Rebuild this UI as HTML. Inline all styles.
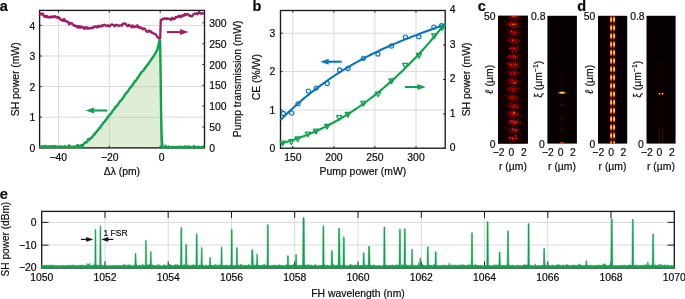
<!DOCTYPE html>
<html><head><meta charset="utf-8"><title>Figure</title>
<style>html,body{margin:0;padding:0;background:#fff}svg{display:block}text{font-family:"Liberation Sans",sans-serif;fill:#0a0a0a;stroke:#0a0a0a;stroke-width:0.18px}</style>
</head><body>
<svg width="685" height="299" viewBox="0 0 685 299">
<rect width="685" height="299" fill="#fff"/>
<line x1="58.5" y1="10.4" x2="58.5" y2="147.9" stroke="#dadada" stroke-width="1" />
<line x1="109.3" y1="10.4" x2="109.3" y2="147.9" stroke="#dadada" stroke-width="1" />
<line x1="160.2" y1="10.4" x2="160.2" y2="147.9" stroke="#dadada" stroke-width="1" />
<line x1="39.6" y1="117.2" x2="204.5" y2="117.2" stroke="#dadada" stroke-width="1" />
<line x1="39.6" y1="86.6" x2="204.5" y2="86.6" stroke="#dadada" stroke-width="1" />
<line x1="39.6" y1="56" x2="204.5" y2="56" stroke="#dadada" stroke-width="1" />
<line x1="39.6" y1="25.4" x2="204.5" y2="25.4" stroke="#dadada" stroke-width="1" />
<path d="M39.6 147.9 L39.6 146.5 L40.1 146.9 L40.6 146.5 L41.1 147.1 L41.6 146.6 L42.1 146.5 L42.6 146.4 L43.1 146.7 L43.6 145.9 L44.1 147 L44.6 147.1 L45.1 147 L45.6 145.9 L46.1 146.8 L46.6 146.8 L47.1 146.6 L47.6 146.8 L48.1 146.7 L48.6 146.2 L49.1 147.1 L49.6 147.1 L50.1 146.7 L50.6 146.4 L51.1 146.6 L51.6 147.1 L52.1 147.1 L52.6 145.9 L53.1 146.9 L53.6 146.6 L54.1 146.5 L54.6 146.5 L55.1 146.1 L55.6 147.1 L56.1 146.9 L56.6 146.8 L57.1 146.6 L57.6 147.1 L58.1 146.9 L58.6 146.8 L59.1 147 L59.6 147 L60.1 146.7 L60.6 146.4 L61.1 146.6 L61.6 146.8 L62.1 147.1 L62.6 146.9 L63.1 146.8 L63.6 146.8 L64.1 146.9 L64.6 146 L65.1 146.8 L65.6 146.9 L66.1 146.9 L66.6 147 L67.1 146.8 L67.6 146.8 L68.1 147 L68.6 146.7 L69.1 145.3 L69.6 147 L70.1 146.4 L70.6 146.8 L71.1 146.9 L71.6 146.8 L72.1 147 L72.6 146.8 L73.1 146.9 L73.6 146.7 L74.1 147 L74.6 146.8 L75.1 146.5 L75.6 146.3 L76.1 146.1 L76.6 146.6 L77.1 145.6 L77.6 146.1 L78.1 145.1 L78.6 145.9 L79.1 146.5 L79.6 146 L80.1 146.2 L80.6 146.1 L81.1 145.2 L81.6 145.2 L82.1 145.8 L82.6 145.6 L83.1 144.6 L83.6 144.6 L84.1 143.3 L84.6 142.8 L85.1 142.7 L85.6 142.2 L86.1 142.6 L86.6 142.1 L87.1 141.6 L87.6 140.2 L88.1 139.2 L88.6 140.2 L89.1 139.4 L89.6 138.7 L90.1 139.3 L90.6 138.3 L91.1 137.9 L91.6 137.7 L92.1 137 L92.6 136.5 L93.1 135.8 L93.6 134.8 L94.1 134.1 L94.6 133.9 L95.1 134.2 L95.6 132.5 L96.1 132.1 L96.6 131.9 L97.1 130.9 L97.6 130.7 L98.1 129.9 L98.6 129 L99.1 128.1 L99.6 128.2 L100.1 127.9 L100.6 126.7 L101.1 125.8 L101.6 125.4 L102.1 124.6 L102.6 123.9 L103.1 123.2 L103.6 122.2 L104.1 122.1 L104.6 122 L105.1 120.9 L105.6 120 L106.1 119.8 L106.6 119 L107.1 118.4 L107.6 117.2 L108.1 116.7 L108.6 116.4 L109.1 115.3 L109.6 115 L110.1 114.3 L110.6 113.8 L111.1 113.3 L111.6 112.5 L112.1 112 L112.6 110.8 L113.1 110.5 L113.6 109.6 L114.1 109 L114.6 108.8 L115.1 107.3 L115.6 106.8 L116.1 106.3 L116.6 106.3 L117.1 105.5 L117.6 105.1 L118.1 104.3 L118.6 103.2 L119.1 102.5 L119.6 101.9 L120.1 101.2 L120.6 100.8 L121.1 100.3 L121.6 100 L122.1 99.1 L122.6 98.2 L123.1 97.6 L123.6 97.2 L124.1 96.4 L124.6 95.2 L125.1 94.8 L125.6 93.8 L126.1 92.9 L126.6 92.9 L127.1 92.1 L127.6 91.5 L128.1 91.1 L128.6 90.3 L129.1 89.5 L129.6 88.4 L130.1 88 L130.6 87.4 L131.1 86.9 L131.6 85.9 L132.1 85.7 L132.6 84.5 L133.1 83.9 L133.6 83.3 L134.1 82.4 L134.6 82 L135.1 80.7 L135.6 80.9 L136.1 80.5 L136.6 79.5 L137.1 78.6 L137.6 77.6 L138.1 77.2 L138.6 76.8 L139.1 75.9 L139.6 74.7 L140.1 74.1 L140.6 73.9 L141.1 72.6 L141.6 71.9 L142.1 71.7 L142.6 71.3 L143.1 71 L143.6 70.3 L144.1 69.1 L144.6 68.5 L145.1 67.7 L145.6 67.8 L146.1 66.4 L146.6 66.2 L147.1 65.4 L147.6 64.7 L148.1 63.8 L148.6 63.7 L149.1 62.5 L149.6 61.9 L150.1 61.4 L150.6 60.4 L151.1 59.9 L151.6 59.1 L152.1 58 L152.6 57.8 L153.1 56.9 L153.6 56.4 L154.1 55.5 L154.6 54.5 L155.1 53.8 L155.6 52.8 L156.1 51.7 L156.6 51.1 L157.1 50.4 L157.6 48.6 L158.1 46.2 L158.6 44.4 L159.1 42.3 L159.6 40.3 L160.1 40.5 L160.6 147.9 Z" fill="#dfecd6"/>
<line x1="109.3" y1="147.8" x2="109.3" y2="118" stroke="#c6d4be" stroke-width="1" />
<line x1="108" y1="117.2" x2="160.4" y2="117.2" stroke="#c6d4be" stroke-width="1" />
<line x1="130" y1="86.6" x2="160.4" y2="86.6" stroke="#c6d4be" stroke-width="1" />
<line x1="152" y1="56" x2="160.4" y2="56" stroke="#c6d4be" stroke-width="1" />
<rect x="39.6" y="10.4" width="164.9" height="137.5" fill="none" stroke="#1a1a1a" stroke-width="1.35"/>
<line x1="58.5" y1="147.9" x2="58.5" y2="145.7" stroke="#1a1a1a" stroke-width="0.9" />
<line x1="58.5" y1="10.4" x2="58.5" y2="12.6" stroke="#1a1a1a" stroke-width="0.9" />
<text x="58.2" y="160.8" text-anchor="middle" font-size="10.4" >−40</text>
<line x1="109.3" y1="147.9" x2="109.3" y2="145.7" stroke="#1a1a1a" stroke-width="0.9" />
<line x1="109.3" y1="10.4" x2="109.3" y2="12.6" stroke="#1a1a1a" stroke-width="0.9" />
<text x="109.8" y="160.8" text-anchor="middle" font-size="10.4" >−20</text>
<line x1="160.2" y1="147.9" x2="160.2" y2="145.7" stroke="#1a1a1a" stroke-width="0.9" />
<line x1="160.2" y1="10.4" x2="160.2" y2="12.6" stroke="#1a1a1a" stroke-width="0.9" />
<text x="161.6" y="160.8" text-anchor="middle" font-size="10.4" >0</text>
<line x1="39.6" y1="147.8" x2="41.8" y2="147.8" stroke="#1a1a1a" stroke-width="0.9" />
<text x="35.3" y="151.9" text-anchor="end" font-size="10.4" >0</text>
<line x1="39.6" y1="117.2" x2="41.8" y2="117.2" stroke="#1a1a1a" stroke-width="0.9" />
<text x="35.3" y="121.3" text-anchor="end" font-size="10.4" >1</text>
<line x1="39.6" y1="86.6" x2="41.8" y2="86.6" stroke="#1a1a1a" stroke-width="0.9" />
<text x="35.3" y="90.7" text-anchor="end" font-size="10.4" >2</text>
<line x1="39.6" y1="56" x2="41.8" y2="56" stroke="#1a1a1a" stroke-width="0.9" />
<text x="35.3" y="60.1" text-anchor="end" font-size="10.4" >3</text>
<line x1="39.6" y1="25.4" x2="41.8" y2="25.4" stroke="#1a1a1a" stroke-width="0.9" />
<text x="35.3" y="29.5" text-anchor="end" font-size="10.4" >4</text>
<line x1="204.5" y1="147.8" x2="202.3" y2="147.8" stroke="#1a1a1a" stroke-width="0.9" />
<text x="209.2" y="151.8" text-anchor="start" font-size="10.4" >0</text>
<line x1="204.5" y1="127" x2="202.3" y2="127" stroke="#1a1a1a" stroke-width="0.9" />
<text x="209.2" y="131" text-anchor="start" font-size="10.4" >50</text>
<line x1="204.5" y1="106.1" x2="202.3" y2="106.1" stroke="#1a1a1a" stroke-width="0.9" />
<text x="209.2" y="110.1" text-anchor="start" font-size="10.4" >100</text>
<line x1="204.5" y1="85.3" x2="202.3" y2="85.3" stroke="#1a1a1a" stroke-width="0.9" />
<text x="209.2" y="89.3" text-anchor="start" font-size="10.4" >150</text>
<line x1="204.5" y1="64.5" x2="202.3" y2="64.5" stroke="#1a1a1a" stroke-width="0.9" />
<text x="209.2" y="68.5" text-anchor="start" font-size="10.4" >200</text>
<line x1="204.5" y1="43.7" x2="202.3" y2="43.7" stroke="#1a1a1a" stroke-width="0.9" />
<text x="209.2" y="47.7" text-anchor="start" font-size="10.4" >250</text>
<line x1="204.5" y1="22.8" x2="202.3" y2="22.8" stroke="#1a1a1a" stroke-width="0.9" />
<text x="209.2" y="26.8" text-anchor="start" font-size="10.4" >300</text>
<text x="121.9" y="174.7" text-anchor="middle" font-size="10.4" >Δλ (pm)</text>
<text transform="translate(19.3 79.3) rotate(-90)" text-anchor="middle" font-size="10.4" >SH power (mW)</text>
<text transform="translate(241.3 78.9) rotate(-90)" text-anchor="middle" font-size="10.4" >Pump transmission (mW)</text>
<line x1="107.3" y1="110.5" x2="92.3" y2="110.5" stroke="#11a14f" stroke-width="2.1" />
<path d="M85.6 110.5 L94 107.5 L94 113.5 Z" fill="#11a14f"/>
<line x1="167" y1="32.1" x2="181.8" y2="32.1" stroke="#9c1f63" stroke-width="2.1" />
<path d="M188.5 32.1 L180.1 29.1 L180.1 35.1 Z" fill="#9c1f63"/>
<text x="-0.3" y="10.4" text-anchor="start" font-size="14.5" font-weight="bold" dy="0.4">a</text>
<path d="M39.6 147.9 L39.6 146.5 L40.1 146.9 L40.6 146.5 L41.1 147.1 L41.6 146.6 L42.1 146.5 L42.6 146.4 L43.1 146.7 L43.6 145.9 L44.1 147 L44.6 147.1 L45.1 147 L45.6 145.9 L46.1 146.8 L46.6 146.8 L47.1 146.6 L47.6 146.8 L48.1 146.7 L48.6 146.2 L49.1 147.1 L49.6 147.1 L50.1 146.7 L50.6 146.4 L51.1 146.6 L51.6 147.1 L52.1 147.1 L52.6 145.9 L53.1 146.9 L53.6 146.6 L54.1 146.5 L54.6 146.5 L55.1 146.1 L55.6 147.1 L56.1 146.9 L56.6 146.8 L57.1 146.6 L57.6 147.1 L58.1 146.9 L58.6 146.8 L59.1 147 L59.6 147 L60.1 146.7 L60.6 146.4 L61.1 146.6 L61.6 146.8 L62.1 147.1 L62.6 146.9 L63.1 146.8 L63.6 146.8 L64.1 146.9 L64.6 146 L65.1 146.8 L65.6 146.9 L66.1 146.9 L66.6 147 L67.1 146.8 L67.6 146.8 L68.1 147 L68.6 146.7 L69.1 145.3 L69.6 147 L70.1 146.4 L70.6 146.8 L71.1 146.9 L71.6 146.8 L72.1 147 L72.6 146.8 L73.1 146.9 L73.6 146.7 L74.1 147 L74.6 146.8 L75.1 146.5 L75.6 146.3 L76.1 146.1 L76.6 146.6 L77.1 145.6 L77.6 146.1 L78.1 145.1 L78.6 145.9 L79.1 146.5 L79.6 146 L80.1 146.2 L80.6 146.1 L81.1 145.2 L81.6 145.2 L82.1 145.8 L82.6 145.6 L83.1 144.6 L83.6 144.6 L83.6 147.9 Z" fill="#11a14f"/>
<path d="M160.6 147.9 L160.6 72.8 L161.1 111.4 L161.6 134.1 L162.1 143 L162.6 146.2 L163.1 147.2 L163.6 147.2 L164.1 147.3 L164.6 147 L165.1 147.4 L165.6 145.8 L166.1 147.5 L166.6 146.9 L167.1 147.1 L167.6 147.4 L168.1 147.4 L168.6 146.6 L169.1 147.3 L169.6 147.2 L170.1 147.2 L170.6 147.2 L171.1 147.4 L171.6 147.3 L172.1 146.8 L172.6 147.4 L173.1 146.9 L173.6 147.4 L174.1 147.4 L174.6 147.2 L175.1 147.5 L175.6 147.1 L176.1 147.3 L176.6 147.4 L177.1 147.3 L177.6 146.7 L178.1 147.4 L178.6 147.4 L179.1 146.8 L179.6 147.4 L180.1 147.2 L180.6 146.7 L181.1 147.5 L181.6 147.5 L182.1 147.2 L182.6 146.9 L183.1 147.2 L183.6 147.5 L184.1 147.4 L184.6 146.6 L185.1 146.9 L185.6 147.5 L186.1 147 L186.6 146.4 L187.1 147.4 L187.6 147.3 L188.1 147.4 L188.6 146.8 L189.1 146.5 L189.6 146.6 L190.1 147.1 L190.6 147.3 L191.1 147.1 L191.6 147.4 L192.1 147.5 L192.6 147.3 L193.1 147.1 L193.6 147.4 L194.1 146.1 L194.6 147.3 L195.1 146.9 L195.6 147.1 L196.1 147.2 L196.6 147.4 L197.1 147.2 L197.6 147.4 L198.1 146.8 L198.6 147.1 L199.1 147.1 L199.6 147 L200.1 147.1 L200.6 147.4 L201.1 147.5 L201.6 147.3 L202.1 147.3 L202.6 147.2 L203.1 147 L203.6 146.2 L204.1 146.4 L204.1 147.9 Z" fill="#11a14f"/>
<polyline fill="none" stroke="#11a14f" stroke-width="2.4" stroke-linejoin="round" points="39.6,146.5 40.1,146.9 40.6,146.5 41.1,147.1 41.6,146.6 42.1,146.5 42.6,146.4 43.1,146.7 43.6,145.9 44.1,147 44.6,147.1 45.1,147 45.6,145.9 46.1,146.8 46.6,146.8 47.1,146.6 47.6,146.8 48.1,146.7 48.6,146.2 49.1,147.1 49.6,147.1 50.1,146.7 50.6,146.4 51.1,146.6 51.6,147.1 52.1,147.1 52.6,145.9 53.1,146.9 53.6,146.6 54.1,146.5 54.6,146.5 55.1,146.1 55.6,147.1 56.1,146.9 56.6,146.8 57.1,146.6 57.6,147.1 58.1,146.9 58.6,146.8 59.1,147 59.6,147 60.1,146.7 60.6,146.4 61.1,146.6 61.6,146.8 62.1,147.1 62.6,146.9 63.1,146.8 63.6,146.8 64.1,146.9 64.6,146 65.1,146.8 65.6,146.9 66.1,146.9 66.6,147 67.1,146.8 67.6,146.8 68.1,147 68.6,146.7 69.1,145.3 69.6,147 70.1,146.4 70.6,146.8 71.1,146.9 71.6,146.8 72.1,147 72.6,146.8 73.1,146.9 73.6,146.7 74.1,147 74.6,146.8 75.1,146.5 75.6,146.3 76.1,146.1 76.6,146.6 77.1,145.6 77.6,146.1 78.1,145.1 78.6,145.9 79.1,146.5 79.6,146 80.1,146.2 80.6,146.1 81.1,145.2 81.6,145.2 82.1,145.8 82.6,145.6 83.1,144.6 83.6,144.6 84.1,143.3 84.6,142.8 85.1,142.7 85.6,142.2 86.1,142.6 86.6,142.1 87.1,141.6 87.6,140.2 88.1,139.2 88.6,140.2 89.1,139.4 89.6,138.7 90.1,139.3 90.6,138.3 91.1,137.9 91.6,137.7 92.1,137 92.6,136.5 93.1,135.8 93.6,134.8 94.1,134.1 94.6,133.9 95.1,134.2 95.6,132.5 96.1,132.1 96.6,131.9 97.1,130.9 97.6,130.7 98.1,129.9 98.6,129 99.1,128.1 99.6,128.2 100.1,127.9 100.6,126.7 101.1,125.8 101.6,125.4 102.1,124.6 102.6,123.9 103.1,123.2 103.6,122.2 104.1,122.1 104.6,122 105.1,120.9 105.6,120 106.1,119.8 106.6,119 107.1,118.4 107.6,117.2 108.1,116.7 108.6,116.4 109.1,115.3 109.6,115 110.1,114.3 110.6,113.8 111.1,113.3 111.6,112.5 112.1,112 112.6,110.8 113.1,110.5 113.6,109.6 114.1,109 114.6,108.8 115.1,107.3 115.6,106.8 116.1,106.3 116.6,106.3 117.1,105.5 117.6,105.1 118.1,104.3 118.6,103.2 119.1,102.5 119.6,101.9 120.1,101.2 120.6,100.8 121.1,100.3 121.6,100 122.1,99.1 122.6,98.2 123.1,97.6 123.6,97.2 124.1,96.4 124.6,95.2 125.1,94.8 125.6,93.8 126.1,92.9 126.6,92.9 127.1,92.1 127.6,91.5 128.1,91.1 128.6,90.3 129.1,89.5 129.6,88.4 130.1,88 130.6,87.4 131.1,86.9 131.6,85.9 132.1,85.7 132.6,84.5 133.1,83.9 133.6,83.3 134.1,82.4 134.6,82 135.1,80.7 135.6,80.9 136.1,80.5 136.6,79.5 137.1,78.6 137.6,77.6 138.1,77.2 138.6,76.8 139.1,75.9 139.6,74.7 140.1,74.1 140.6,73.9 141.1,72.6 141.6,71.9 142.1,71.7 142.6,71.3 143.1,71 143.6,70.3 144.1,69.1 144.6,68.5 145.1,67.7 145.6,67.8 146.1,66.4 146.6,66.2 147.1,65.4 147.6,64.7 148.1,63.8 148.6,63.7 149.1,62.5 149.6,61.9 150.1,61.4 150.6,60.4 151.1,59.9 151.6,59.1 152.1,58 152.6,57.8 153.1,56.9 153.6,56.4 154.1,55.5 154.6,54.5 155.1,53.8 155.6,52.8 156.1,51.7 156.6,51.1 157.1,50.4 157.6,48.6 158.1,46.2 158.6,44.4 159.1,42.3 159.6,40.3 160.1,40.5 160.6,72.8 161.1,111.4 161.6,134.1 162.1,143 162.6,146.2 163.1,147.2 163.6,147.2 164.1,147.3 164.6,147 165.1,147.4 165.6,145.8 166.1,147.5 166.6,146.9 167.1,147.1 167.6,147.4 168.1,147.4 168.6,146.6 169.1,147.3 169.6,147.2 170.1,147.2 170.6,147.2 171.1,147.4 171.6,147.3 172.1,146.8 172.6,147.4 173.1,146.9 173.6,147.4 174.1,147.4 174.6,147.2 175.1,147.5 175.6,147.1 176.1,147.3 176.6,147.4 177.1,147.3 177.6,146.7 178.1,147.4 178.6,147.4 179.1,146.8 179.6,147.4 180.1,147.2 180.6,146.7 181.1,147.5 181.6,147.5 182.1,147.2 182.6,146.9 183.1,147.2 183.6,147.5 184.1,147.4 184.6,146.6 185.1,146.9 185.6,147.5 186.1,147 186.6,146.4 187.1,147.4 187.6,147.3 188.1,147.4 188.6,146.8 189.1,146.5 189.6,146.6 190.1,147.1 190.6,147.3 191.1,147.1 191.6,147.4 192.1,147.5 192.6,147.3 193.1,147.1 193.6,147.4 194.1,146.1 194.6,147.3 195.1,146.9 195.6,147.1 196.1,147.2 196.6,147.4 197.1,147.2 197.6,147.4 198.1,146.8 198.6,147.1 199.1,147.1 199.6,147 200.1,147.1 200.6,147.4 201.1,147.5 201.6,147.3 202.1,147.3 202.6,147.2 203.1,147 203.6,146.2 204.1,146.4"/>
<polyline fill="none" stroke="#9c1f63" stroke-width="2.3" stroke-linejoin="round" points="39.6,13.2 40.2,13.4 40.8,14.3 41.4,14.6 42,14.1 42.6,13.4 43.2,14.5 43.8,15.8 44.4,16.6 45,16.9 45.6,16.1 46.2,15.9 46.8,17.1 47.4,16.2 48,17.4 48.6,17.4 49.2,17.4 49.8,16.7 50.4,16.6 51,17.6 51.6,17.1 52.2,16.6 52.8,16.9 53.4,16.2 54,17.2 54.6,16.9 55.2,16.3 55.8,17 56.4,16.8 57,17 57.6,18.1 58.2,17.2 58.8,17.8 59.4,17.6 60,18.9 60.6,19.7 61.2,20 61.8,19.7 62.4,20.6 63,20.8 63.6,19.4 64.2,18.9 64.8,21.1 65.4,21.2 66,20.9 66.6,21.7 67.2,21.5 67.8,21.7 68.4,22.7 69,24.4 69.6,23.3 70.2,22.9 70.8,23.2 71.4,23.7 72,23.1 72.6,24.3 73.2,24.9 73.8,25.3 74.4,26 75,25.4 75.6,25.9 76.2,26.4 76.8,25.9 77.4,27.5 78,27.1 78.6,26.1 79.2,26.1 79.8,27.9 80.4,27.6 81,26.4 81.6,26.9 82.2,27.1 82.8,27.1 83.4,28.2 84,28.6 84.6,28.8 85.2,27.2 85.8,27.3 86.4,27.5 87,28.5 87.6,27.5 88.2,28.6 88.8,28.1 89.4,28.4 90,28.1 90.6,28.3 91.2,28.1 91.8,27.6 92.4,27.8 93,28.1 93.6,27.2 94.2,26.5 94.8,26.8 95.4,26.7 96,26.5 96.6,26.9 97.2,27.5 97.8,26.3 98.4,27 99,25.7 99.6,26.2 100.2,26.5 100.8,26.6 101.4,26.1 102,25.2 102.6,26 103.2,25.3 103.8,25.1 104.4,24.7 105,25 105.6,25.6 106.2,25.7 106.8,25.7 107.4,26.2 108,25.3 108.6,25.8 109.2,26.4 109.8,26.1 110.4,25.5 111,24.8 111.6,24.5 112.2,24.5 112.8,24.7 113.4,25 114,25.5 114.6,26.3 115.2,25.9 115.8,24.9 116.4,24.8 117,25.1 117.6,25.5 118.2,25.6 118.8,25.5 119.4,25.8 120,25.3 120.6,25.4 121.2,25.3 121.8,25.8 122.4,24.5 123,23.6 123.6,23.9 124.2,23.4 124.8,23.5 125.4,23.7 126,24.2 126.6,25.2 127.2,25.6 127.8,26.4 128.4,25.6 129,24.8 129.6,25.3 130.2,25.8 130.8,26.1 131.4,26.5 132,27.3 132.6,25.4 133.2,26.6 133.8,26.5 134.4,27.2 135,26.7 135.6,26.6 136.2,26.1 136.8,26.6 137.4,25.3 138,27.1 138.6,27.6 139.2,27.7 139.8,27.1 140.4,28.1 141,27.5 141.6,28.2 142.2,28.4 142.8,29.3 143.4,28.8 144,28.3 144.6,28.8 145.2,29 145.8,30.3 146.4,31.2 147,31.2 147.6,32.1 148.2,31.4 148.8,30.7 149.4,30.6 150,31.2 150.6,32.1 151.2,31.6 151.8,32.5 152.4,33 153,32.9 153.6,33.6 154.2,33.7 154.8,33.8 155.4,34.2 156,34.6 156.6,35.6 157.2,36.8 157.8,37.3 158.4,37.7 159,38.5 159.6,38.3 160.2,38.5 160.8,19.9 161.4,20.1 162,19.3 162.6,18.8 163.2,19.3 163.8,18.9 164.4,18.3 165,18.3 165.6,18.5 166.2,19.2 166.8,18.2 167.4,18.8 168,18.9 168.6,18.8 169.2,18.7 169.8,19.1 170.4,18.9 171,20 171.6,19.2 172.2,17.8 172.8,18.6 173.4,19 174,19 174.6,18.3 175.2,18.5 175.8,16.9 176.4,17.2 177,17.3 177.6,16.7 178.2,16.8 178.8,15.8 179.4,16.5 180,15.9 180.6,17.3 181.2,16 181.8,16.3 182.4,15.3 183,15.7 183.6,15.8 184.2,15.7 184.8,13.9 185.4,15 186,15.2 186.6,14.3 187.2,14 187.8,14.2 188.4,14.8 189,15.3 189.6,15.8 190.2,15.3 190.8,15.9 191.4,16.4 192,16.3 192.6,15.9 193.2,15 193.8,13.9 194.4,13.7 195,13.7 195.6,13.6 196.2,13.8 196.8,13.3 197.4,14.2 198,13.7 198.6,13.1 199.2,11.7 199.8,12.9 200.4,13.4 201,13.6 201.6,13.5 202.2,12.9 202.8,13.4 203.4,13.7 204,14.1"/>
<line x1="292.8" y1="10.5" x2="292.8" y2="148.2" stroke="#dadada" stroke-width="1" />
<line x1="333.9" y1="10.5" x2="333.9" y2="148.2" stroke="#dadada" stroke-width="1" />
<line x1="374.9" y1="10.5" x2="374.9" y2="148.2" stroke="#dadada" stroke-width="1" />
<line x1="416" y1="10.5" x2="416" y2="148.2" stroke="#dadada" stroke-width="1" />
<line x1="280.5" y1="110" x2="445.2" y2="110" stroke="#dadada" stroke-width="1" />
<line x1="280.5" y1="71.6" x2="445.2" y2="71.6" stroke="#dadada" stroke-width="1" />
<line x1="280.5" y1="33.2" x2="445.2" y2="33.2" stroke="#dadada" stroke-width="1" />
<rect x="280.5" y="10.5" width="164.7" height="137.7" fill="none" stroke="#1a1a1a" stroke-width="1.35"/>
<line x1="292.8" y1="148.2" x2="292.8" y2="146" stroke="#1a1a1a" stroke-width="0.9" />
<line x1="292.8" y1="10.5" x2="292.8" y2="12.7" stroke="#1a1a1a" stroke-width="0.9" />
<text x="292.8" y="160.5" text-anchor="middle" font-size="10.4" >150</text>
<line x1="333.9" y1="148.2" x2="333.9" y2="146" stroke="#1a1a1a" stroke-width="0.9" />
<line x1="333.9" y1="10.5" x2="333.9" y2="12.7" stroke="#1a1a1a" stroke-width="0.9" />
<text x="333.9" y="160.5" text-anchor="middle" font-size="10.4" >200</text>
<line x1="374.9" y1="148.2" x2="374.9" y2="146" stroke="#1a1a1a" stroke-width="0.9" />
<line x1="374.9" y1="10.5" x2="374.9" y2="12.7" stroke="#1a1a1a" stroke-width="0.9" />
<text x="374.9" y="160.5" text-anchor="middle" font-size="10.4" >250</text>
<line x1="416" y1="148.2" x2="416" y2="146" stroke="#1a1a1a" stroke-width="0.9" />
<line x1="416" y1="10.5" x2="416" y2="12.7" stroke="#1a1a1a" stroke-width="0.9" />
<text x="416" y="160.5" text-anchor="middle" font-size="10.4" >300</text>
<line x1="280.5" y1="148.4" x2="282.7" y2="148.4" stroke="#1a1a1a" stroke-width="0.9" />
<text x="275.3" y="152.2" text-anchor="end" font-size="10.4" >0</text>
<line x1="280.5" y1="110" x2="282.7" y2="110" stroke="#1a1a1a" stroke-width="0.9" />
<text x="275.3" y="113.8" text-anchor="end" font-size="10.4" >1</text>
<line x1="280.5" y1="71.6" x2="282.7" y2="71.6" stroke="#1a1a1a" stroke-width="0.9" />
<text x="275.3" y="75.4" text-anchor="end" font-size="10.4" >2</text>
<line x1="280.5" y1="33.2" x2="282.7" y2="33.2" stroke="#1a1a1a" stroke-width="0.9" />
<text x="275.3" y="37" text-anchor="end" font-size="10.4" >3</text>
<line x1="445.2" y1="148.4" x2="443" y2="148.4" stroke="#1a1a1a" stroke-width="0.9" />
<text x="449.8" y="151" text-anchor="start" font-size="10.4" >0</text>
<line x1="445.2" y1="113.9" x2="443" y2="113.9" stroke="#1a1a1a" stroke-width="0.9" />
<text x="449.8" y="116.5" text-anchor="start" font-size="10.4" >1</text>
<line x1="445.2" y1="79.5" x2="443" y2="79.5" stroke="#1a1a1a" stroke-width="0.9" />
<text x="449.8" y="82.1" text-anchor="start" font-size="10.4" >2</text>
<line x1="445.2" y1="45" x2="443" y2="45" stroke="#1a1a1a" stroke-width="0.9" />
<text x="449.8" y="47.6" text-anchor="start" font-size="10.4" >3</text>
<line x1="445.2" y1="10.5" x2="443" y2="10.5" stroke="#1a1a1a" stroke-width="0.9" />
<text x="449.8" y="13.1" text-anchor="start" font-size="10.4" >4</text>
<text x="362.9" y="174.8" text-anchor="middle" font-size="10.4" >Pump power (mW)</text>
<text transform="translate(259.8 77.2) rotate(-90)" text-anchor="middle" font-size="10.4" >CE (%/W)</text>
<text transform="translate(470 79.4) rotate(-90)" text-anchor="middle" font-size="10.4" >SH power (mW)</text>
<line x1="341.7" y1="61.7" x2="327" y2="61.7" stroke="#0d73bb" stroke-width="2.1" />
<path d="M320.3 61.7 L328.7 58.7 L328.7 64.7 Z" fill="#0d73bb"/>
<line x1="405" y1="87" x2="419.1" y2="87" stroke="#11a14f" stroke-width="2.1" />
<path d="M425.8 87 L417.4 84 L417.4 90 Z" fill="#11a14f"/>
<text x="252.6" y="10.2" text-anchor="start" font-size="14.5" font-weight="bold" dy="0.4">b</text>
<polyline fill="none" stroke="#0d73bb" stroke-width="2.1" points="280.5,119.9 283.3,117.2 286.1,114.5 288.9,111.8 291.7,109.2 294.5,106.7 297.2,104.2 300,101.8 302.8,99.4 305.6,97 308.4,94.8 311.2,92.5 314,90.3 316.8,88.2 319.6,86.1 322.4,84.1 325.2,82 328,80.1 330.7,78.2 333.5,76.3 336.3,74.4 339.1,72.6 341.9,70.9 344.7,69.2 347.5,67.5 350.3,65.8 353.1,64.2 355.9,62.6 358.7,61.1 361.5,59.6 364.2,58.1 367,56.6 369.8,55.2 372.6,53.8 375.4,52.5 378.2,51.1 381,49.8 383.8,48.5 386.6,47.3 389.4,46 392.2,44.8 395,43.6 397.7,42.4 400.5,41.3 403.3,40.1 406.1,39 408.9,37.9 411.7,36.8 414.5,35.7 417.3,34.7 420.1,33.6 422.9,32.6 425.7,31.6 428.5,30.5 431.2,29.5 434,28.5 436.8,27.5 439.6,26.6 442.4,25.6 445.2,24.6"/>
<polyline fill="none" stroke="#11a14f" stroke-width="2.1" points="280.5,143.5 283.3,142.8 286.1,142 288.9,141.2 291.7,140.3 294.5,139.4 297.2,138.5 300,137.5 302.8,136.5 305.6,135.5 308.4,134.4 311.2,133.2 314,132 316.8,130.8 319.6,129.5 322.4,128.2 325.2,126.9 328,125.5 330.7,124 333.5,122.5 336.3,121 339.1,119.4 341.9,117.8 344.7,116.1 347.5,114.4 350.3,112.6 353.1,110.8 355.9,108.9 358.7,107 361.5,105.1 364.2,103.1 367,101 369.8,99 372.6,96.8 375.4,94.6 378.2,92.4 381,90.1 383.8,87.8 386.6,85.4 389.4,82.9 392.2,80.4 395,77.9 397.7,75.3 400.5,72.7 403.3,70 406.1,67.2 408.9,64.4 411.7,61.6 414.5,58.7 417.3,55.8 420.1,52.7 422.9,49.7 425.7,46.6 428.5,43.4 431.2,40.2 434,36.9 436.8,33.6 439.6,30.2 442.4,26.8 445.2,23.3"/>
<circle cx="283.3" cy="113.4" r="2.1" fill="none" stroke="#0d73bb" stroke-width="1.15"/>
<circle cx="291.7" cy="113.1" r="2.1" fill="none" stroke="#0d73bb" stroke-width="1.15"/>
<circle cx="298.1" cy="103.8" r="2.1" fill="none" stroke="#0d73bb" stroke-width="1.15"/>
<circle cx="308.4" cy="91.1" r="2.1" fill="none" stroke="#0d73bb" stroke-width="1.15"/>
<circle cx="316.2" cy="88.1" r="2.1" fill="none" stroke="#0d73bb" stroke-width="1.15"/>
<circle cx="327.2" cy="83.4" r="2.1" fill="none" stroke="#0d73bb" stroke-width="1.15"/>
<circle cx="339.7" cy="69.9" r="2.1" fill="none" stroke="#0d73bb" stroke-width="1.15"/>
<circle cx="348" cy="68.5" r="2.1" fill="none" stroke="#0d73bb" stroke-width="1.15"/>
<circle cx="363.4" cy="58.3" r="2.1" fill="none" stroke="#0d73bb" stroke-width="1.15"/>
<circle cx="377.9" cy="54" r="2.1" fill="none" stroke="#0d73bb" stroke-width="1.15"/>
<circle cx="391.5" cy="46" r="2.1" fill="none" stroke="#0d73bb" stroke-width="1.15"/>
<circle cx="405.4" cy="37.1" r="2.1" fill="none" stroke="#0d73bb" stroke-width="1.15"/>
<circle cx="418.8" cy="36.7" r="2.1" fill="none" stroke="#0d73bb" stroke-width="1.15"/>
<circle cx="433.9" cy="27.1" r="2.1" fill="none" stroke="#0d73bb" stroke-width="1.15"/>
<circle cx="441.5" cy="25.7" r="2.1" fill="none" stroke="#0d73bb" stroke-width="1.15"/>
<path d="M280.1 141.1 L285.3 141.1 L282.7 145.8 Z" fill="none" stroke="#11a14f" stroke-width="1.3" stroke-linejoin="round"/>
<path d="M288.8 139.7 L294 139.7 L291.4 144.4 Z" fill="none" stroke="#11a14f" stroke-width="1.3" stroke-linejoin="round"/>
<path d="M295.1 137 L300.3 137 L297.7 141.7 Z" fill="none" stroke="#11a14f" stroke-width="1.3" stroke-linejoin="round"/>
<path d="M305.4 132.1 L310.6 132.1 L308 136.8 Z" fill="none" stroke="#11a14f" stroke-width="1.3" stroke-linejoin="round"/>
<path d="M313.4 129.2 L318.6 129.2 L316 133.9 Z" fill="none" stroke="#11a14f" stroke-width="1.3" stroke-linejoin="round"/>
<path d="M324.5 124.3 L329.7 124.3 L327.1 129 Z" fill="none" stroke="#11a14f" stroke-width="1.3" stroke-linejoin="round"/>
<path d="M336.6 115.7 L341.8 115.7 L339.2 120.4 Z" fill="none" stroke="#11a14f" stroke-width="1.3" stroke-linejoin="round"/>
<path d="M345.3 112.4 L350.5 112.4 L347.9 117.1 Z" fill="none" stroke="#11a14f" stroke-width="1.3" stroke-linejoin="round"/>
<path d="M360.8 101.4 L366 101.4 L363.4 106.1 Z" fill="none" stroke="#11a14f" stroke-width="1.3" stroke-linejoin="round"/>
<path d="M375.5 92.1 L380.7 92.1 L378.1 96.8 Z" fill="none" stroke="#11a14f" stroke-width="1.3" stroke-linejoin="round"/>
<path d="M388.9 79 L394.1 79 L391.5 83.7 Z" fill="none" stroke="#11a14f" stroke-width="1.3" stroke-linejoin="round"/>
<path d="M402.6 63.4 L407.8 63.4 L405.2 68.1 Z" fill="none" stroke="#11a14f" stroke-width="1.3" stroke-linejoin="round"/>
<path d="M416.3 53.4 L421.5 53.4 L418.9 58.1 Z" fill="none" stroke="#11a14f" stroke-width="1.3" stroke-linejoin="round"/>
<path d="M431.6 34 L436.8 34 L434.2 38.7 Z" fill="none" stroke="#11a14f" stroke-width="1.3" stroke-linejoin="round"/>
<path d="M439.6 25.7 L444.8 25.7 L442.2 30.4 Z" fill="none" stroke="#11a14f" stroke-width="1.3" stroke-linejoin="round"/>
<rect x="498.1" y="15.8" width="29.7" height="127.8" fill="#070000"/>
<rect x="547.4" y="15.8" width="29.5" height="127.8" fill="#070000"/>
<rect x="598" y="15.8" width="29.2" height="127.8" fill="#070000"/>
<rect x="646.5" y="15.8" width="29.1" height="127.8" fill="#070000"/>
<defs><filter id="bl" x="-5%" y="-2%" width="110%" height="104%"><feGaussianBlur stdDeviation="0.6"/></filter><clipPath id="cl1"><rect x="498.1" y="15.8" width="29.7" height="127.8"/></clipPath></defs><g clip-path="url(#cl1)"><g filter="url(#bl)">
<rect x="496.1" y="13.8" width="33.7" height="131.8" fill="#070000"/>
<path d="M508.1 15.8h1v1h-1zM520.1 15.8h1v1h-1zM508.1 16.8h1v1h-1zM519.1 16.8h1v1h-1zM525.1 16.8h1v1h-1zM512.1 17.8h1v1h-1zM513.1 18.8h1v1h-1zM514.1 18.8h1v1h-1zM515.1 18.8h1v1h-1zM520.1 18.8h1v1h-1zM507.1 19.8h1v1h-1zM509.1 19.8h1v1h-1zM510.1 19.8h1v1h-1zM517.1 19.8h1v1h-1zM518.1 19.8h1v1h-1zM507.1 20.8h1v1h-1zM510.1 20.8h1v1h-1zM512.1 20.8h1v1h-1zM513.1 20.8h1v1h-1zM517.1 20.8h1v1h-1zM498.1 21.8h1v1h-1zM507.1 21.8h1v1h-1zM508.1 21.8h1v1h-1zM517.1 21.8h1v1h-1zM519.1 21.8h1v1h-1zM508.1 22.8h1v1h-1zM505.1 23.8h1v1h-1zM525.1 23.8h1v1h-1zM518.1 24.8h1v1h-1zM519.1 24.8h1v1h-1zM508.1 25.8h1v1h-1zM509.1 25.8h1v1h-1zM516.1 25.8h1v1h-1zM506.1 26.8h1v1h-1zM511.1 26.8h1v1h-1zM512.1 26.8h1v1h-1zM513.1 26.8h1v1h-1zM514.1 26.8h1v1h-1zM516.1 26.8h1v1h-1zM514.1 27.8h1v1h-1zM516.1 27.8h1v1h-1zM513.1 28.8h1v1h-1zM516.1 28.8h1v1h-1zM509.1 29.8h1v1h-1zM510.1 29.8h1v1h-1zM512.1 29.8h1v1h-1zM516.1 29.8h1v1h-1zM518.1 29.8h1v1h-1zM507.1 30.8h1v1h-1zM517.1 30.8h1v1h-1zM518.1 30.8h1v1h-1zM507.1 31.8h1v1h-1zM508.1 31.8h1v1h-1zM509.1 31.8h1v1h-1zM518.1 31.8h1v1h-1zM520.1 31.8h1v1h-1zM503.1 33.8h1v1h-1zM510.1 33.8h1v1h-1zM513.1 33.8h1v1h-1zM515.1 33.8h1v1h-1zM516.1 33.8h1v1h-1zM517.1 33.8h1v1h-1zM519.1 33.8h1v1h-1zM520.1 33.8h1v1h-1zM522.1 33.8h1v1h-1zM512.1 34.8h1v1h-1zM515.1 34.8h1v1h-1zM519.1 34.8h1v1h-1zM512.1 35.8h1v1h-1zM504.1 36.8h1v1h-1zM508.1 37.8h1v1h-1zM510.1 37.8h1v1h-1zM513.1 37.8h1v1h-1zM514.1 37.8h1v1h-1zM507.1 38.8h1v1h-1zM508.1 38.8h1v1h-1zM520.1 39.8h1v1h-1zM504.1 40.8h1v1h-1zM509.1 41.8h1v1h-1zM510.1 41.8h1v1h-1zM517.1 41.8h1v1h-1zM519.1 41.8h1v1h-1zM513.1 42.8h1v1h-1zM515.1 42.8h1v1h-1zM516.1 42.8h1v1h-1zM503.1 43.8h1v1h-1zM511.1 43.8h1v1h-1zM512.1 43.8h1v1h-1zM517.1 43.8h1v1h-1zM514.1 44.8h1v1h-1zM515.1 44.8h1v1h-1zM510.1 45.8h1v1h-1zM511.1 45.8h1v1h-1zM512.1 45.8h1v1h-1zM513.1 45.8h1v1h-1zM515.1 45.8h1v1h-1zM516.1 45.8h1v1h-1zM509.1 46.8h1v1h-1zM510.1 46.8h1v1h-1zM516.1 46.8h1v1h-1zM518.1 46.8h1v1h-1zM520.1 46.8h1v1h-1zM500.1 47.8h1v1h-1zM503.1 47.8h1v1h-1zM508.1 47.8h1v1h-1zM517.1 47.8h1v1h-1zM518.1 47.8h1v1h-1zM522.1 47.8h1v1h-1zM527.1 47.8h0.7v1h-0.7zM508.1 48.8h1v1h-1zM509.1 48.8h1v1h-1zM524.1 48.8h1v1h-1zM508.1 49.8h1v1h-1zM503.1 50.8h1v1h-1zM504.1 50.8h1v1h-1zM510.1 50.8h1v1h-1zM513.1 50.8h1v1h-1zM516.1 50.8h1v1h-1zM518.1 50.8h1v1h-1zM509.1 51.8h1v1h-1zM512.1 52.8h1v1h-1zM513.1 52.8h1v1h-1zM505.1 53.8h1v1h-1zM508.1 53.8h1v1h-1zM510.1 53.8h1v1h-1zM511.1 53.8h1v1h-1zM517.1 53.8h1v1h-1zM516.1 54.8h1v1h-1zM517.1 54.8h1v1h-1zM506.1 55.8h1v1h-1zM508.1 55.8h1v1h-1zM518.1 55.8h1v1h-1zM518.1 56.8h1v1h-1zM519.1 56.8h1v1h-1zM523.1 56.8h1v1h-1zM508.1 57.8h1v1h-1zM509.1 57.8h1v1h-1zM510.1 57.8h1v1h-1zM516.1 57.8h1v1h-1zM518.1 57.8h1v1h-1zM510.1 58.8h1v1h-1zM512.1 58.8h1v1h-1zM513.1 58.8h1v1h-1zM514.1 58.8h1v1h-1zM516.1 58.8h1v1h-1zM517.1 58.8h1v1h-1zM507.1 59.8h1v1h-1zM513.1 59.8h1v1h-1zM508.1 60.8h1v1h-1zM513.1 60.8h1v1h-1zM514.1 60.8h1v1h-1zM521.1 60.8h1v1h-1zM505.1 61.8h1v1h-1zM513.1 61.8h1v1h-1zM515.1 61.8h1v1h-1zM519.1 61.8h1v1h-1zM506.1 62.8h1v1h-1zM518.1 62.8h1v1h-1zM505.1 63.8h1v1h-1zM507.1 63.8h1v1h-1zM518.1 63.8h1v1h-1zM519.1 63.8h1v1h-1zM499.1 64.8h1v1h-1zM507.1 64.8h1v1h-1zM521.1 64.8h1v1h-1zM506.1 65.8h1v1h-1zM508.1 65.8h1v1h-1zM508.1 66.8h1v1h-1zM517.1 66.8h1v1h-1zM518.1 66.8h1v1h-1zM513.1 67.8h1v1h-1zM517.1 67.8h1v1h-1zM520.1 67.8h1v1h-1zM522.1 68.8h1v1h-1zM503.1 69.8h1v1h-1zM504.1 69.8h1v1h-1zM511.1 69.8h1v1h-1zM513.1 69.8h1v1h-1zM507.1 70.8h1v1h-1zM508.1 70.8h1v1h-1zM511.1 70.8h1v1h-1zM516.1 70.8h1v1h-1zM517.1 70.8h1v1h-1zM518.1 70.8h1v1h-1zM521.1 70.8h1v1h-1zM501.1 71.8h1v1h-1zM520.1 71.8h1v1h-1zM517.1 72.8h1v1h-1zM520.1 72.8h1v1h-1zM527.1 72.8h0.7v1h-0.7zM508.1 73.8h1v1h-1zM516.1 73.8h1v1h-1zM518.1 73.8h1v1h-1zM519.1 73.8h1v1h-1zM526.1 73.8h1v1h-1zM508.1 74.8h1v1h-1zM517.1 74.8h1v1h-1zM522.1 74.8h1v1h-1zM511.1 75.8h1v1h-1zM499.1 76.8h1v1h-1zM508.1 76.8h1v1h-1zM511.1 77.8h1v1h-1zM518.1 77.8h1v1h-1zM520.1 77.8h1v1h-1zM508.1 78.8h1v1h-1zM516.1 78.8h1v1h-1zM507.1 79.8h1v1h-1zM508.1 79.8h1v1h-1zM517.1 79.8h1v1h-1zM505.1 80.8h1v1h-1zM508.1 80.8h1v1h-1zM521.1 80.8h1v1h-1zM506.1 81.8h1v1h-1zM517.1 81.8h1v1h-1zM518.1 81.8h1v1h-1zM519.1 81.8h1v1h-1zM520.1 81.8h1v1h-1zM521.1 81.8h1v1h-1zM505.1 82.8h1v1h-1zM520.1 82.8h1v1h-1zM521.1 82.8h1v1h-1zM503.1 83.8h1v1h-1zM508.1 83.8h1v1h-1zM511.1 83.8h1v1h-1zM512.1 83.8h1v1h-1zM516.1 83.8h1v1h-1zM526.1 83.8h1v1h-1zM499.1 84.8h1v1h-1zM520.1 84.8h1v1h-1zM511.1 85.8h1v1h-1zM516.1 85.8h1v1h-1zM512.1 86.8h1v1h-1zM514.1 86.8h1v1h-1zM515.1 86.8h1v1h-1zM517.1 86.8h1v1h-1zM507.1 87.8h1v1h-1zM517.1 88.8h1v1h-1zM522.1 88.8h1v1h-1zM508.1 89.8h1v1h-1zM517.1 89.8h1v1h-1zM520.1 89.8h1v1h-1zM505.1 90.8h1v1h-1zM509.1 90.8h1v1h-1zM517.1 90.8h1v1h-1zM509.1 91.8h1v1h-1zM514.1 91.8h1v1h-1zM518.1 91.8h1v1h-1zM514.1 92.8h1v1h-1zM516.1 92.8h1v1h-1zM512.1 93.8h1v1h-1zM501.1 94.8h1v1h-1zM508.1 94.8h1v1h-1zM509.1 94.8h1v1h-1zM510.1 94.8h1v1h-1zM512.1 94.8h1v1h-1zM514.1 94.8h1v1h-1zM518.1 94.8h1v1h-1zM519.1 94.8h1v1h-1zM523.1 94.8h1v1h-1zM519.1 95.8h1v1h-1zM507.1 96.8h1v1h-1zM507.1 97.8h1v1h-1zM508.1 97.8h1v1h-1zM502.1 98.8h1v1h-1zM507.1 98.8h1v1h-1zM516.1 98.8h1v1h-1zM517.1 98.8h1v1h-1zM518.1 98.8h1v1h-1zM502.1 99.8h1v1h-1zM510.1 99.8h1v1h-1zM513.1 99.8h1v1h-1zM514.1 99.8h1v1h-1zM520.1 99.8h1v1h-1zM521.1 99.8h1v1h-1zM505.1 100.8h1v1h-1zM509.1 100.8h1v1h-1zM511.1 100.8h1v1h-1zM521.1 100.8h1v1h-1zM500.1 101.8h1v1h-1zM507.1 101.8h1v1h-1zM516.1 101.8h1v1h-1zM520.1 101.8h1v1h-1zM508.1 102.8h1v1h-1zM512.1 102.8h1v1h-1zM513.1 102.8h1v1h-1zM514.1 102.8h1v1h-1zM515.1 102.8h1v1h-1zM516.1 102.8h1v1h-1zM518.1 102.8h1v1h-1zM520.1 102.8h1v1h-1zM506.1 103.8h1v1h-1zM509.1 103.8h1v1h-1zM510.1 103.8h1v1h-1zM519.1 103.8h1v1h-1zM509.1 104.8h1v1h-1zM520.1 104.8h1v1h-1zM504.1 105.8h1v1h-1zM505.1 105.8h1v1h-1zM508.1 105.8h1v1h-1zM519.1 105.8h1v1h-1zM509.1 106.8h1v1h-1zM518.1 106.8h1v1h-1zM513.1 107.8h1v1h-1zM515.1 107.8h1v1h-1zM516.1 107.8h1v1h-1zM520.1 107.8h1v1h-1zM498.1 108.8h1v1h-1zM516.1 108.8h1v1h-1zM507.1 109.8h1v1h-1zM508.1 109.8h1v1h-1zM510.1 109.8h1v1h-1zM512.1 109.8h1v1h-1zM513.1 109.8h1v1h-1zM508.1 110.8h1v1h-1zM509.1 110.8h1v1h-1zM510.1 110.8h1v1h-1zM514.1 110.8h1v1h-1zM508.1 111.8h1v1h-1zM518.1 111.8h1v1h-1zM503.1 112.8h1v1h-1zM519.1 112.8h1v1h-1zM499.1 113.8h1v1h-1zM504.1 113.8h1v1h-1zM506.1 113.8h1v1h-1zM508.1 113.8h1v1h-1zM518.1 113.8h1v1h-1zM519.1 113.8h1v1h-1zM520.1 113.8h1v1h-1zM521.1 113.8h1v1h-1zM519.1 114.8h1v1h-1zM518.1 115.8h1v1h-1zM519.1 115.8h1v1h-1zM527.1 115.8h0.7v1h-0.7zM503.1 116.8h1v1h-1zM506.1 116.8h1v1h-1zM514.1 116.8h1v1h-1zM515.1 116.8h1v1h-1zM517.1 116.8h1v1h-1zM508.1 117.8h1v1h-1zM509.1 117.8h1v1h-1zM511.1 117.8h1v1h-1zM517.1 117.8h1v1h-1zM509.1 118.8h1v1h-1zM510.1 118.8h1v1h-1zM511.1 118.8h1v1h-1zM514.1 118.8h1v1h-1zM515.1 118.8h1v1h-1zM517.1 118.8h1v1h-1zM509.1 119.8h1v1h-1zM505.1 120.8h1v1h-1zM508.1 120.8h1v1h-1zM522.1 120.8h1v1h-1zM523.1 120.8h1v1h-1zM518.1 121.8h1v1h-1zM519.1 121.8h1v1h-1zM523.1 121.8h1v1h-1zM506.1 122.8h1v1h-1zM519.1 122.8h1v1h-1zM509.1 123.8h1v1h-1zM510.1 123.8h1v1h-1zM518.1 123.8h1v1h-1zM499.1 124.8h1v1h-1zM503.1 124.8h1v1h-1zM511.1 124.8h1v1h-1zM513.1 124.8h1v1h-1zM514.1 124.8h1v1h-1zM516.1 124.8h1v1h-1zM507.1 125.8h1v1h-1zM509.1 125.8h1v1h-1zM508.1 126.8h1v1h-1zM510.1 126.8h1v1h-1zM511.1 126.8h1v1h-1zM512.1 126.8h1v1h-1zM513.1 126.8h1v1h-1zM514.1 126.8h1v1h-1zM515.1 126.8h1v1h-1zM501.1 127.8h1v1h-1zM508.1 127.8h1v1h-1zM509.1 127.8h1v1h-1zM511.1 127.8h1v1h-1zM514.1 127.8h1v1h-1zM508.1 128.8h1v1h-1zM510.1 128.8h1v1h-1zM517.1 128.8h1v1h-1zM527.1 128.8h0.7v1h-0.7zM498.1 129.8h1v1h-1zM507.1 129.8h1v1h-1zM509.1 130.8h1v1h-1zM511.1 130.8h1v1h-1zM518.1 130.8h1v1h-1zM509.1 131.8h1v1h-1zM510.1 131.8h1v1h-1zM512.1 131.8h1v1h-1zM514.1 131.8h1v1h-1zM516.1 131.8h1v1h-1zM517.1 131.8h1v1h-1zM515.1 133.8h1v1h-1zM498.1 134.8h1v1h-1zM513.1 134.8h1v1h-1zM507.1 135.8h1v1h-1zM509.1 135.8h1v1h-1zM511.1 135.8h1v1h-1zM513.1 135.8h1v1h-1zM504.1 136.8h1v1h-1zM507.1 136.8h1v1h-1zM508.1 136.8h1v1h-1zM517.1 136.8h1v1h-1zM523.1 136.8h1v1h-1zM506.1 137.8h1v1h-1zM508.1 138.8h1v1h-1zM517.1 138.8h1v1h-1zM521.1 138.8h1v1h-1zM505.1 139.8h1v1h-1zM509.1 139.8h1v1h-1zM515.1 139.8h1v1h-1zM516.1 139.8h1v1h-1zM517.1 139.8h1v1h-1zM518.1 139.8h1v1h-1zM523.1 139.8h1v1h-1zM508.1 140.8h1v1h-1zM510.1 140.8h1v1h-1zM511.1 140.8h1v1h-1zM515.1 140.8h1v1h-1zM519.1 140.8h1v1h-1zM501.1 141.8h1v1h-1zM508.1 141.8h1v1h-1zM511.1 141.8h1v1h-1zM517.1 141.8h1v1h-1zM502.1 142.8h1v0.8h-1zM512.1 142.8h1v0.8h-1z" fill="#310000"/>
<path d="M509.1 15.8h1v1h-1zM510.1 15.8h1v1h-1zM516.1 15.8h1v1h-1zM517.1 15.8h1v1h-1zM519.1 15.8h1v1h-1zM509.1 16.8h1v1h-1zM510.1 16.8h1v1h-1zM511.1 16.8h1v1h-1zM512.1 16.8h1v1h-1zM514.1 16.8h1v1h-1zM515.1 16.8h1v1h-1zM516.1 16.8h1v1h-1zM518.1 16.8h1v1h-1zM507.1 17.8h1v1h-1zM510.1 17.8h1v1h-1zM511.1 17.8h1v1h-1zM513.1 17.8h1v1h-1zM516.1 17.8h1v1h-1zM517.1 17.8h1v1h-1zM518.1 17.8h1v1h-1zM510.1 18.8h1v1h-1zM512.1 18.8h1v1h-1zM521.1 18.8h1v1h-1zM511.1 19.8h1v1h-1zM513.1 19.8h1v1h-1zM508.1 20.8h1v1h-1zM509.1 20.8h1v1h-1zM511.1 20.8h1v1h-1zM509.1 21.8h1v1h-1zM510.1 21.8h1v1h-1zM512.1 21.8h1v1h-1zM513.1 21.8h1v1h-1zM514.1 21.8h1v1h-1zM515.1 21.8h1v1h-1zM507.1 22.8h1v1h-1zM513.1 22.8h1v1h-1zM517.1 22.8h1v1h-1zM519.1 22.8h1v1h-1zM520.1 22.8h1v1h-1zM506.1 23.8h1v1h-1zM507.1 23.8h1v1h-1zM518.1 23.8h1v1h-1zM505.1 24.8h1v1h-1zM507.1 24.8h1v1h-1zM508.1 24.8h1v1h-1zM509.1 24.8h1v1h-1zM511.1 24.8h1v1h-1zM514.1 24.8h1v1h-1zM516.1 24.8h1v1h-1zM517.1 24.8h1v1h-1zM510.1 25.8h1v1h-1zM511.1 25.8h1v1h-1zM514.1 25.8h1v1h-1zM517.1 25.8h1v1h-1zM519.1 25.8h1v1h-1zM520.1 25.8h1v1h-1zM509.1 26.8h1v1h-1zM510.1 26.8h1v1h-1zM515.1 26.8h1v1h-1zM518.1 26.8h1v1h-1zM513.1 27.8h1v1h-1zM511.1 28.8h1v1h-1zM512.1 28.8h1v1h-1zM507.1 29.8h1v1h-1zM508.1 29.8h1v1h-1zM513.1 29.8h1v1h-1zM514.1 29.8h1v1h-1zM517.1 29.8h1v1h-1zM508.1 30.8h1v1h-1zM510.1 30.8h1v1h-1zM512.1 30.8h1v1h-1zM515.1 30.8h1v1h-1zM516.1 30.8h1v1h-1zM519.1 30.8h1v1h-1zM510.1 31.8h1v1h-1zM514.1 31.8h1v1h-1zM517.1 31.8h1v1h-1zM508.1 32.8h1v1h-1zM510.1 32.8h1v1h-1zM512.1 32.8h1v1h-1zM517.1 32.8h1v1h-1zM511.1 33.8h1v1h-1zM512.1 33.8h1v1h-1zM518.1 33.8h1v1h-1zM505.1 34.8h1v1h-1zM509.1 34.8h1v1h-1zM510.1 34.8h1v1h-1zM511.1 34.8h1v1h-1zM514.1 34.8h1v1h-1zM516.1 34.8h1v1h-1zM507.1 36.8h1v1h-1zM508.1 36.8h1v1h-1zM509.1 36.8h1v1h-1zM510.1 36.8h1v1h-1zM512.1 36.8h1v1h-1zM514.1 36.8h1v1h-1zM509.1 37.8h1v1h-1zM511.1 37.8h1v1h-1zM512.1 37.8h1v1h-1zM515.1 37.8h1v1h-1zM510.1 38.8h1v1h-1zM511.1 38.8h1v1h-1zM514.1 38.8h1v1h-1zM516.1 38.8h1v1h-1zM517.1 38.8h1v1h-1zM519.1 38.8h1v1h-1zM507.1 39.8h1v1h-1zM508.1 39.8h1v1h-1zM510.1 39.8h1v1h-1zM515.1 39.8h1v1h-1zM516.1 39.8h1v1h-1zM517.1 39.8h1v1h-1zM518.1 39.8h1v1h-1zM507.1 40.8h1v1h-1zM508.1 40.8h1v1h-1zM509.1 40.8h1v1h-1zM510.1 40.8h1v1h-1zM511.1 40.8h1v1h-1zM516.1 40.8h1v1h-1zM517.1 40.8h1v1h-1zM518.1 40.8h1v1h-1zM519.1 40.8h1v1h-1zM512.1 41.8h1v1h-1zM516.1 41.8h1v1h-1zM512.1 42.8h1v1h-1zM514.1 42.8h1v1h-1zM510.1 43.8h1v1h-1zM513.1 43.8h1v1h-1zM512.1 44.8h1v1h-1zM513.1 44.8h1v1h-1zM505.1 45.8h1v1h-1zM514.1 45.8h1v1h-1zM512.1 46.8h1v1h-1zM514.1 46.8h1v1h-1zM517.1 46.8h1v1h-1zM519.1 46.8h1v1h-1zM515.1 47.8h1v1h-1zM510.1 48.8h1v1h-1zM511.1 48.8h1v1h-1zM512.1 48.8h1v1h-1zM516.1 48.8h1v1h-1zM517.1 48.8h1v1h-1zM518.1 48.8h1v1h-1zM510.1 49.8h1v1h-1zM511.1 49.8h1v1h-1zM513.1 49.8h1v1h-1zM514.1 49.8h1v1h-1zM516.1 49.8h1v1h-1zM517.1 49.8h1v1h-1zM512.1 50.8h1v1h-1zM514.1 50.8h1v1h-1zM511.1 51.8h1v1h-1zM515.1 52.8h1v1h-1zM512.1 53.8h1v1h-1zM513.1 53.8h1v1h-1zM514.1 53.8h1v1h-1zM518.1 53.8h1v1h-1zM508.1 54.8h1v1h-1zM510.1 54.8h1v1h-1zM511.1 54.8h1v1h-1zM513.1 54.8h1v1h-1zM515.1 54.8h1v1h-1zM518.1 54.8h1v1h-1zM520.1 54.8h1v1h-1zM507.1 55.8h1v1h-1zM515.1 55.8h1v1h-1zM517.1 55.8h1v1h-1zM519.1 55.8h1v1h-1zM520.1 55.8h1v1h-1zM507.1 56.8h1v1h-1zM508.1 56.8h1v1h-1zM516.1 56.8h1v1h-1zM517.1 56.8h1v1h-1zM507.1 57.8h1v1h-1zM511.1 57.8h1v1h-1zM512.1 57.8h1v1h-1zM514.1 57.8h1v1h-1zM515.1 57.8h1v1h-1zM508.1 58.8h1v1h-1zM511.1 58.8h1v1h-1zM515.1 58.8h1v1h-1zM518.1 58.8h1v1h-1zM510.1 59.8h1v1h-1zM515.1 59.8h1v1h-1zM510.1 61.8h1v1h-1zM511.1 61.8h1v1h-1zM514.1 61.8h1v1h-1zM516.1 61.8h1v1h-1zM518.1 61.8h1v1h-1zM505.1 62.8h1v1h-1zM508.1 62.8h1v1h-1zM510.1 62.8h1v1h-1zM512.1 62.8h1v1h-1zM515.1 62.8h1v1h-1zM516.1 62.8h1v1h-1zM520.1 62.8h1v1h-1zM506.1 63.8h1v1h-1zM508.1 63.8h1v1h-1zM509.1 63.8h1v1h-1zM512.1 63.8h1v1h-1zM516.1 63.8h1v1h-1zM508.1 64.8h1v1h-1zM511.1 64.8h1v1h-1zM515.1 64.8h1v1h-1zM517.1 64.8h1v1h-1zM518.1 64.8h1v1h-1zM509.1 65.8h1v1h-1zM511.1 65.8h1v1h-1zM512.1 65.8h1v1h-1zM513.1 65.8h1v1h-1zM515.1 65.8h1v1h-1zM517.1 65.8h1v1h-1zM518.1 65.8h1v1h-1zM507.1 66.8h1v1h-1zM509.1 66.8h1v1h-1zM510.1 66.8h1v1h-1zM512.1 66.8h1v1h-1zM515.1 66.8h1v1h-1zM509.1 67.8h1v1h-1zM511.1 67.8h1v1h-1zM514.1 67.8h1v1h-1zM515.1 67.8h1v1h-1zM515.1 68.8h1v1h-1zM507.1 69.8h1v1h-1zM510.1 69.8h1v1h-1zM512.1 69.8h1v1h-1zM509.1 70.8h1v1h-1zM510.1 70.8h1v1h-1zM512.1 70.8h1v1h-1zM513.1 70.8h1v1h-1zM514.1 70.8h1v1h-1zM508.1 71.8h1v1h-1zM511.1 71.8h1v1h-1zM512.1 71.8h1v1h-1zM513.1 71.8h1v1h-1zM515.1 71.8h1v1h-1zM516.1 71.8h1v1h-1zM504.1 72.8h1v1h-1zM505.1 72.8h1v1h-1zM507.1 72.8h1v1h-1zM508.1 72.8h1v1h-1zM509.1 72.8h1v1h-1zM510.1 72.8h1v1h-1zM512.1 72.8h1v1h-1zM516.1 72.8h1v1h-1zM509.1 73.8h1v1h-1zM512.1 73.8h1v1h-1zM514.1 73.8h1v1h-1zM517.1 73.8h1v1h-1zM510.1 74.8h1v1h-1zM511.1 74.8h1v1h-1zM512.1 74.8h1v1h-1zM513.1 74.8h1v1h-1zM514.1 74.8h1v1h-1zM515.1 74.8h1v1h-1zM516.1 74.8h1v1h-1zM512.1 75.8h1v1h-1zM510.1 76.8h1v1h-1zM511.1 76.8h1v1h-1zM515.1 76.8h1v1h-1zM509.1 77.8h1v1h-1zM510.1 77.8h1v1h-1zM512.1 77.8h1v1h-1zM513.1 77.8h1v1h-1zM514.1 77.8h1v1h-1zM507.1 78.8h1v1h-1zM509.1 78.8h1v1h-1zM513.1 78.8h1v1h-1zM514.1 78.8h1v1h-1zM515.1 78.8h1v1h-1zM509.1 79.8h1v1h-1zM510.1 79.8h1v1h-1zM514.1 79.8h1v1h-1zM516.1 79.8h1v1h-1zM518.1 79.8h1v1h-1zM506.1 80.8h1v1h-1zM507.1 80.8h1v1h-1zM509.1 80.8h1v1h-1zM510.1 80.8h1v1h-1zM512.1 80.8h1v1h-1zM518.1 80.8h1v1h-1zM509.1 81.8h1v1h-1zM510.1 81.8h1v1h-1zM511.1 81.8h1v1h-1zM514.1 81.8h1v1h-1zM516.1 81.8h1v1h-1zM508.1 82.8h1v1h-1zM509.1 82.8h1v1h-1zM510.1 82.8h1v1h-1zM511.1 82.8h1v1h-1zM512.1 82.8h1v1h-1zM516.1 82.8h1v1h-1zM509.1 83.8h1v1h-1zM513.1 83.8h1v1h-1zM514.1 83.8h1v1h-1zM515.1 83.8h1v1h-1zM515.1 84.8h1v1h-1zM509.1 85.8h1v1h-1zM510.1 85.8h1v1h-1zM513.1 85.8h1v1h-1zM515.1 85.8h1v1h-1zM517.1 85.8h1v1h-1zM505.1 86.8h1v1h-1zM509.1 86.8h1v1h-1zM513.1 86.8h1v1h-1zM516.1 86.8h1v1h-1zM508.1 87.8h1v1h-1zM509.1 87.8h1v1h-1zM510.1 87.8h1v1h-1zM512.1 87.8h1v1h-1zM515.1 87.8h1v1h-1zM518.1 87.8h1v1h-1zM519.1 87.8h1v1h-1zM505.1 88.8h1v1h-1zM507.1 88.8h1v1h-1zM508.1 88.8h1v1h-1zM510.1 88.8h1v1h-1zM511.1 88.8h1v1h-1zM519.1 88.8h1v1h-1zM509.1 89.8h1v1h-1zM511.1 89.8h1v1h-1zM514.1 89.8h1v1h-1zM515.1 89.8h1v1h-1zM516.1 89.8h1v1h-1zM518.1 89.8h1v1h-1zM510.1 90.8h1v1h-1zM511.1 90.8h1v1h-1zM516.1 90.8h1v1h-1zM511.1 91.8h1v1h-1zM512.1 91.8h1v1h-1zM515.1 91.8h1v1h-1zM508.1 92.8h1v1h-1zM507.1 93.8h1v1h-1zM510.1 93.8h1v1h-1zM513.1 93.8h1v1h-1zM516.1 93.8h1v1h-1zM504.1 94.8h1v1h-1zM511.1 94.8h1v1h-1zM513.1 94.8h1v1h-1zM515.1 94.8h1v1h-1zM507.1 95.8h1v1h-1zM508.1 95.8h1v1h-1zM510.1 95.8h1v1h-1zM514.1 95.8h1v1h-1zM515.1 95.8h1v1h-1zM506.1 96.8h1v1h-1zM508.1 96.8h1v1h-1zM509.1 96.8h1v1h-1zM513.1 96.8h1v1h-1zM516.1 96.8h1v1h-1zM517.1 96.8h1v1h-1zM518.1 96.8h1v1h-1zM506.1 97.8h1v1h-1zM509.1 97.8h1v1h-1zM512.1 97.8h1v1h-1zM515.1 97.8h1v1h-1zM516.1 97.8h1v1h-1zM517.1 97.8h1v1h-1zM508.1 98.8h1v1h-1zM509.1 98.8h1v1h-1zM510.1 98.8h1v1h-1zM511.1 98.8h1v1h-1zM513.1 98.8h1v1h-1zM515.1 98.8h1v1h-1zM511.1 99.8h1v1h-1zM512.1 99.8h1v1h-1zM515.1 99.8h1v1h-1zM518.1 99.8h1v1h-1zM510.1 100.8h1v1h-1zM513.1 100.8h1v1h-1zM514.1 100.8h1v1h-1zM516.1 100.8h1v1h-1zM509.1 101.8h1v1h-1zM512.1 101.8h1v1h-1zM509.1 102.8h1v1h-1zM510.1 102.8h1v1h-1zM517.1 102.8h1v1h-1zM502.1 103.8h1v1h-1zM505.1 103.8h1v1h-1zM508.1 103.8h1v1h-1zM511.1 103.8h1v1h-1zM512.1 103.8h1v1h-1zM515.1 103.8h1v1h-1zM517.1 103.8h1v1h-1zM508.1 104.8h1v1h-1zM512.1 104.8h1v1h-1zM516.1 104.8h1v1h-1zM517.1 104.8h1v1h-1zM518.1 104.8h1v1h-1zM521.1 104.8h1v1h-1zM509.1 105.8h1v1h-1zM510.1 105.8h1v1h-1zM518.1 105.8h1v1h-1zM510.1 106.8h1v1h-1zM511.1 106.8h1v1h-1zM512.1 106.8h1v1h-1zM514.1 106.8h1v1h-1zM515.1 106.8h1v1h-1zM511.1 107.8h1v1h-1zM512.1 107.8h1v1h-1zM517.1 107.8h1v1h-1zM522.1 107.8h1v1h-1zM514.1 109.8h1v1h-1zM507.1 110.8h1v1h-1zM511.1 110.8h1v1h-1zM512.1 110.8h1v1h-1zM515.1 110.8h1v1h-1zM507.1 111.8h1v1h-1zM510.1 111.8h1v1h-1zM512.1 111.8h1v1h-1zM516.1 111.8h1v1h-1zM517.1 111.8h1v1h-1zM507.1 112.8h1v1h-1zM508.1 112.8h1v1h-1zM509.1 112.8h1v1h-1zM517.1 112.8h1v1h-1zM518.1 112.8h1v1h-1zM509.1 113.8h1v1h-1zM510.1 113.8h1v1h-1zM516.1 113.8h1v1h-1zM509.1 114.8h1v1h-1zM510.1 114.8h1v1h-1zM517.1 114.8h1v1h-1zM518.1 114.8h1v1h-1zM521.1 114.8h1v1h-1zM522.1 114.8h1v1h-1zM508.1 115.8h1v1h-1zM509.1 115.8h1v1h-1zM511.1 115.8h1v1h-1zM512.1 115.8h1v1h-1zM513.1 115.8h1v1h-1zM514.1 115.8h1v1h-1zM515.1 115.8h1v1h-1zM516.1 115.8h1v1h-1zM517.1 115.8h1v1h-1zM520.1 115.8h1v1h-1zM510.1 116.8h1v1h-1zM512.1 116.8h1v1h-1zM512.1 118.8h1v1h-1zM513.1 118.8h1v1h-1zM516.1 118.8h1v1h-1zM518.1 118.8h1v1h-1zM507.1 119.8h1v1h-1zM512.1 119.8h1v1h-1zM514.1 119.8h1v1h-1zM515.1 119.8h1v1h-1zM517.1 119.8h1v1h-1zM507.1 120.8h1v1h-1zM509.1 120.8h1v1h-1zM513.1 120.8h1v1h-1zM516.1 120.8h1v1h-1zM517.1 120.8h1v1h-1zM518.1 120.8h1v1h-1zM508.1 121.8h1v1h-1zM510.1 121.8h1v1h-1zM509.1 122.8h1v1h-1zM510.1 122.8h1v1h-1zM511.1 122.8h1v1h-1zM512.1 122.8h1v1h-1zM516.1 122.8h1v1h-1zM507.1 123.8h1v1h-1zM512.1 123.8h1v1h-1zM513.1 123.8h1v1h-1zM516.1 123.8h1v1h-1zM517.1 123.8h1v1h-1zM513.1 125.8h1v1h-1zM514.1 125.8h1v1h-1zM505.1 127.8h1v1h-1zM510.1 127.8h1v1h-1zM512.1 127.8h1v1h-1zM515.1 127.8h1v1h-1zM516.1 127.8h1v1h-1zM517.1 127.8h1v1h-1zM518.1 127.8h1v1h-1zM509.1 128.8h1v1h-1zM511.1 128.8h1v1h-1zM514.1 128.8h1v1h-1zM516.1 128.8h1v1h-1zM510.1 129.8h1v1h-1zM512.1 129.8h1v1h-1zM514.1 129.8h1v1h-1zM506.1 130.8h1v1h-1zM510.1 130.8h1v1h-1zM513.1 130.8h1v1h-1zM515.1 130.8h1v1h-1zM516.1 130.8h1v1h-1zM517.1 130.8h1v1h-1zM519.1 130.8h1v1h-1zM513.1 131.8h1v1h-1zM515.1 131.8h1v1h-1zM519.1 131.8h1v1h-1zM510.1 132.8h1v1h-1zM511.1 132.8h1v1h-1zM512.1 132.8h1v1h-1zM514.1 132.8h1v1h-1zM516.1 132.8h1v1h-1zM509.1 133.8h1v1h-1zM514.1 133.8h1v1h-1zM517.1 133.8h1v1h-1zM520.1 133.8h1v1h-1zM506.1 134.8h1v1h-1zM511.1 134.8h1v1h-1zM516.1 134.8h1v1h-1zM518.1 134.8h1v1h-1zM510.1 135.8h1v1h-1zM512.1 135.8h1v1h-1zM514.1 135.8h1v1h-1zM509.1 136.8h1v1h-1zM514.1 136.8h1v1h-1zM516.1 136.8h1v1h-1zM507.1 137.8h1v1h-1zM508.1 137.8h1v1h-1zM511.1 137.8h1v1h-1zM515.1 137.8h1v1h-1zM517.1 137.8h1v1h-1zM518.1 137.8h1v1h-1zM519.1 137.8h1v1h-1zM509.1 138.8h1v1h-1zM511.1 138.8h1v1h-1zM514.1 138.8h1v1h-1zM516.1 138.8h1v1h-1zM518.1 138.8h1v1h-1zM510.1 139.8h1v1h-1zM511.1 139.8h1v1h-1zM512.1 139.8h1v1h-1zM513.1 139.8h1v1h-1zM514.1 139.8h1v1h-1zM512.1 140.8h1v1h-1zM513.1 140.8h1v1h-1zM514.1 140.8h1v1h-1zM514.1 141.8h1v1h-1zM516.1 141.8h1v1h-1z" fill="#680000"/>
<path d="M518.1 15.8h1v1h-1zM517.1 16.8h1v1h-1zM515.1 17.8h1v1h-1zM504.1 20.8h1v1h-1zM516.1 21.8h1v1h-1zM509.1 22.8h1v1h-1zM511.1 22.8h1v1h-1zM512.1 22.8h1v1h-1zM515.1 22.8h1v1h-1zM508.1 23.8h1v1h-1zM509.1 23.8h1v1h-1zM515.1 23.8h1v1h-1zM516.1 23.8h1v1h-1zM512.1 24.8h1v1h-1zM513.1 24.8h1v1h-1zM515.1 24.8h1v1h-1zM512.1 25.8h1v1h-1zM515.1 25.8h1v1h-1zM511.1 29.8h1v1h-1zM515.1 29.8h1v1h-1zM509.1 30.8h1v1h-1zM513.1 30.8h1v1h-1zM514.1 30.8h1v1h-1zM511.1 31.8h1v1h-1zM513.1 31.8h1v1h-1zM516.1 31.8h1v1h-1zM509.1 32.8h1v1h-1zM511.1 32.8h1v1h-1zM518.1 32.8h1v1h-1zM517.1 34.8h1v1h-1zM513.1 35.8h1v1h-1zM509.1 38.8h1v1h-1zM513.1 38.8h1v1h-1zM509.1 39.8h1v1h-1zM511.1 39.8h1v1h-1zM513.1 39.8h1v1h-1zM519.1 39.8h1v1h-1zM513.1 40.8h1v1h-1zM514.1 40.8h1v1h-1zM515.1 40.8h1v1h-1zM511.1 41.8h1v1h-1zM514.1 41.8h1v1h-1zM511.1 42.8h1v1h-1zM508.1 45.8h1v1h-1zM518.1 45.8h1v1h-1zM511.1 46.8h1v1h-1zM513.1 46.8h1v1h-1zM515.1 46.8h1v1h-1zM511.1 47.8h1v1h-1zM512.1 47.8h1v1h-1zM513.1 48.8h1v1h-1zM514.1 48.8h1v1h-1zM515.1 48.8h1v1h-1zM515.1 49.8h1v1h-1zM515.1 50.8h1v1h-1zM509.1 54.8h1v1h-1zM512.1 54.8h1v1h-1zM509.1 55.8h1v1h-1zM510.1 55.8h1v1h-1zM511.1 55.8h1v1h-1zM512.1 55.8h1v1h-1zM514.1 55.8h1v1h-1zM516.1 55.8h1v1h-1zM510.1 56.8h1v1h-1zM511.1 56.8h1v1h-1zM513.1 56.8h1v1h-1zM514.1 56.8h1v1h-1zM513.1 57.8h1v1h-1zM515.1 60.8h1v1h-1zM509.1 61.8h1v1h-1zM512.1 61.8h1v1h-1zM509.1 62.8h1v1h-1zM511.1 62.8h1v1h-1zM514.1 62.8h1v1h-1zM517.1 62.8h1v1h-1zM514.1 63.8h1v1h-1zM512.1 64.8h1v1h-1zM516.1 64.8h1v1h-1zM510.1 65.8h1v1h-1zM514.1 65.8h1v1h-1zM516.1 65.8h1v1h-1zM511.1 66.8h1v1h-1zM514.1 66.8h1v1h-1zM516.1 66.8h1v1h-1zM510.1 67.8h1v1h-1zM512.1 67.8h1v1h-1zM515.1 69.8h1v1h-1zM515.1 70.8h1v1h-1zM509.1 71.8h1v1h-1zM510.1 71.8h1v1h-1zM517.1 71.8h1v1h-1zM518.1 71.8h1v1h-1zM511.1 72.8h1v1h-1zM513.1 72.8h1v1h-1zM515.1 72.8h1v1h-1zM518.1 72.8h1v1h-1zM510.1 73.8h1v1h-1zM514.1 75.8h1v1h-1zM510.1 78.8h1v1h-1zM511.1 78.8h1v1h-1zM512.1 78.8h1v1h-1zM506.1 79.8h1v1h-1zM511.1 79.8h1v1h-1zM512.1 79.8h1v1h-1zM515.1 79.8h1v1h-1zM513.1 80.8h1v1h-1zM515.1 80.8h1v1h-1zM517.1 80.8h1v1h-1zM508.1 81.8h1v1h-1zM513.1 82.8h1v1h-1zM517.1 82.8h1v1h-1zM510.1 86.8h1v1h-1zM506.1 87.8h1v1h-1zM511.1 87.8h1v1h-1zM513.1 88.8h1v1h-1zM514.1 88.8h1v1h-1zM515.1 88.8h1v1h-1zM516.1 88.8h1v1h-1zM507.1 89.8h1v1h-1zM512.1 89.8h1v1h-1zM513.1 90.8h1v1h-1zM514.1 90.8h1v1h-1zM515.1 90.8h1v1h-1zM513.1 91.8h1v1h-1zM511.1 93.8h1v1h-1zM511.1 95.8h1v1h-1zM513.1 95.8h1v1h-1zM516.1 95.8h1v1h-1zM510.1 96.8h1v1h-1zM511.1 96.8h1v1h-1zM512.1 96.8h1v1h-1zM514.1 96.8h1v1h-1zM511.1 97.8h1v1h-1zM513.1 97.8h1v1h-1zM514.1 97.8h1v1h-1zM512.1 98.8h1v1h-1zM514.1 98.8h1v1h-1zM516.1 99.8h1v1h-1zM511.1 102.8h1v1h-1zM513.1 103.8h1v1h-1zM514.1 103.8h1v1h-1zM516.1 103.8h1v1h-1zM510.1 104.8h1v1h-1zM511.1 104.8h1v1h-1zM511.1 105.8h1v1h-1zM512.1 105.8h1v1h-1zM513.1 105.8h1v1h-1zM515.1 105.8h1v1h-1zM517.1 105.8h1v1h-1zM516.1 106.8h1v1h-1zM517.1 106.8h1v1h-1zM514.1 107.8h1v1h-1zM512.1 108.8h1v1h-1zM513.1 110.8h1v1h-1zM516.1 110.8h1v1h-1zM509.1 111.8h1v1h-1zM511.1 111.8h1v1h-1zM515.1 111.8h1v1h-1zM510.1 112.8h1v1h-1zM511.1 112.8h1v1h-1zM515.1 112.8h1v1h-1zM516.1 112.8h1v1h-1zM511.1 113.8h1v1h-1zM515.1 113.8h1v1h-1zM511.1 114.8h1v1h-1zM513.1 114.8h1v1h-1zM515.1 114.8h1v1h-1zM516.1 114.8h1v1h-1zM510.1 115.8h1v1h-1zM511.1 119.8h1v1h-1zM513.1 119.8h1v1h-1zM511.1 120.8h1v1h-1zM511.1 121.8h1v1h-1zM512.1 121.8h1v1h-1zM514.1 121.8h1v1h-1zM520.1 121.8h1v1h-1zM515.1 122.8h1v1h-1zM517.1 122.8h1v1h-1zM518.1 122.8h1v1h-1zM520.1 122.8h1v1h-1zM511.1 123.8h1v1h-1zM515.1 123.8h1v1h-1zM506.1 127.8h1v1h-1zM515.1 128.8h1v1h-1zM509.1 129.8h1v1h-1zM511.1 129.8h1v1h-1zM513.1 129.8h1v1h-1zM517.1 129.8h1v1h-1zM518.1 129.8h1v1h-1zM512.1 130.8h1v1h-1zM511.1 131.8h1v1h-1zM516.1 135.8h1v1h-1zM511.1 136.8h1v1h-1zM512.1 136.8h1v1h-1zM513.1 136.8h1v1h-1zM515.1 136.8h1v1h-1zM510.1 137.8h1v1h-1zM513.1 137.8h1v1h-1zM510.1 138.8h1v1h-1zM515.1 138.8h1v1h-1z" fill="#a00000"/>
<path d="M511.1 15.8h1v1h-1zM513.1 15.8h1v1h-1zM513.1 16.8h1v1h-1zM514.1 17.8h1v1h-1zM514.1 20.8h1v1h-1zM511.1 21.8h1v1h-1zM510.1 22.8h1v1h-1zM514.1 22.8h1v1h-1zM516.1 22.8h1v1h-1zM510.1 23.8h1v1h-1zM511.1 23.8h1v1h-1zM513.1 23.8h1v1h-1zM517.1 23.8h1v1h-1zM512.1 31.8h1v1h-1zM515.1 31.8h1v1h-1zM514.1 32.8h1v1h-1zM515.1 32.8h1v1h-1zM516.1 32.8h1v1h-1zM514.1 33.8h1v1h-1zM515.1 38.8h1v1h-1zM514.1 39.8h1v1h-1zM512.1 40.8h1v1h-1zM513.1 41.8h1v1h-1zM515.1 41.8h1v1h-1zM517.1 45.8h1v1h-1zM509.1 47.8h1v1h-1zM516.1 47.8h1v1h-1zM512.1 49.8h1v1h-1zM517.1 50.8h1v1h-1zM514.1 54.8h1v1h-1zM512.1 56.8h1v1h-1zM517.1 57.8h1v1h-1zM507.1 62.8h1v1h-1zM513.1 62.8h1v1h-1zM517.1 63.8h1v1h-1zM513.1 64.8h1v1h-1zM513.1 66.8h1v1h-1zM514.1 72.8h1v1h-1zM515.1 73.8h1v1h-1zM513.1 79.8h1v1h-1zM511.1 80.8h1v1h-1zM514.1 80.8h1v1h-1zM516.1 80.8h1v1h-1zM512.1 81.8h1v1h-1zM513.1 81.8h1v1h-1zM515.1 82.8h1v1h-1zM512.1 85.8h1v1h-1zM511.1 86.8h1v1h-1zM514.1 87.8h1v1h-1zM516.1 87.8h1v1h-1zM509.1 88.8h1v1h-1zM510.1 89.8h1v1h-1zM513.1 89.8h1v1h-1zM512.1 90.8h1v1h-1zM515.1 96.8h1v1h-1zM513.1 104.8h1v1h-1zM515.1 104.8h1v1h-1zM514.1 105.8h1v1h-1zM518.1 107.8h1v1h-1zM511.1 109.8h1v1h-1zM512.1 112.8h1v1h-1zM513.1 112.8h1v1h-1zM512.1 113.8h1v1h-1zM513.1 113.8h1v1h-1zM512.1 114.8h1v1h-1zM514.1 114.8h1v1h-1zM510.1 119.8h1v1h-1zM516.1 119.8h1v1h-1zM515.1 120.8h1v1h-1zM513.1 121.8h1v1h-1zM513.1 122.8h1v1h-1zM514.1 123.8h1v1h-1zM515.1 134.8h1v1h-1zM515.1 135.8h1v1h-1zM514.1 137.8h1v1h-1zM512.1 138.8h1v1h-1zM513.1 138.8h1v1h-1zM510.1 142.8h1v0.8h-1z" fill="#d70000"/>
<path d="M514.1 15.8h1v1h-1zM513.1 25.8h1v1h-1zM513.1 32.8h1v1h-1zM512.1 38.8h1v1h-1zM517.1 42.8h1v1h-1zM512.1 51.8h1v1h-1zM509.1 56.8h1v1h-1zM510.1 63.8h1v1h-1zM513.1 63.8h1v1h-1zM509.1 64.8h1v1h-1zM510.1 64.8h1v1h-1zM514.1 64.8h1v1h-1zM513.1 73.8h1v1h-1zM515.1 81.8h1v1h-1zM513.1 87.8h1v1h-1zM512.1 88.8h1v1h-1zM509.1 95.8h1v1h-1zM510.1 97.8h1v1h-1zM516.1 105.8h1v1h-1zM514.1 111.8h1v1h-1zM514.1 113.8h1v1h-1zM517.1 113.8h1v1h-1zM509.1 121.8h1v1h-1zM515.1 121.8h1v1h-1zM517.1 121.8h1v1h-1zM513.1 127.8h1v1h-1zM516.1 129.8h1v1h-1zM514.1 130.8h1v1h-1z" fill="#ff0f00"/>
<path d="M510.1 47.8h1v1h-1zM513.1 47.8h1v1h-1zM514.1 47.8h1v1h-1zM513.1 55.8h1v1h-1zM511.1 63.8h1v1h-1zM514.1 71.8h1v1h-1zM511.1 73.8h1v1h-1zM512.1 95.8h1v1h-1zM514.1 104.8h1v1h-1zM514.1 120.8h1v1h-1zM516.1 121.8h1v1h-1zM512.1 128.8h1v1h-1zM513.1 128.8h1v1h-1zM510.1 136.8h1v1h-1zM509.1 137.8h1v1h-1z" fill="#ff4600"/>
<path d="M515.1 15.8h1v1h-1zM510.1 24.8h1v1h-1zM511.1 30.8h1v1h-1zM512.1 39.8h1v1h-1zM513.1 106.8h1v1h-1zM514.1 112.8h1v1h-1zM510.1 120.8h1v1h-1zM512.1 120.8h1v1h-1zM514.1 122.8h1v1h-1zM512.1 137.8h1v1h-1zM516.1 137.8h1v1h-1z" fill="#ff7e00"/>
<path d="M512.1 15.8h1v1h-1zM515.1 56.8h1v1h-1zM515.1 63.8h1v1h-1zM515.1 129.8h1v1h-1z" fill="#ffb500"/>
<path d="M512.1 23.8h1v1h-1zM514.1 23.8h1v1h-1zM513.1 111.8h1v1h-1z" fill="#ffec39"/>
<path d="M514.1 82.8h1v1h-1z" fill="#ffff79"/>
</g></g>
<defs><radialGradient id="g1"><stop offset="0" stop-color="#fff6c0"/><stop offset="0.35" stop-color="#ffb020"/><stop offset="0.7" stop-color="#c02000"/><stop offset="1" stop-color="#400000" stop-opacity="0"/></radialGradient><radialGradient id="g2"><stop offset="0" stop-color="#ffd060"/><stop offset="0.5" stop-color="#e04000"/><stop offset="1" stop-color="#400000" stop-opacity="0"/></radialGradient><radialGradient id="g3"><stop offset="0" stop-color="#fffad0"/><stop offset="0.3" stop-color="#ffcf40"/><stop offset="0.6" stop-color="#f06000"/><stop offset="0.8" stop-color="#a01800" stop-opacity="0.8"/><stop offset="1" stop-color="#500000" stop-opacity="0"/></radialGradient><clipPath id="cl2"><rect x="547.4" y="15.8" width="29.5" height="127.8"/></clipPath><clipPath id="cl3"><rect x="598" y="15.8" width="29.2" height="127.8"/></clipPath><clipPath id="cl4"><rect x="646.5" y="15.8" width="29.1" height="127.8"/></clipPath></defs>
<g clip-path="url(#cl2)">
<rect x="561.5" y="70" width="1.2" height="74" fill="#1c0000"/>
<ellipse cx="562.1" cy="92.7" rx="5" ry="1.8" fill="url(#g1)"/>
<ellipse cx="562.1" cy="143.4" rx="4.5" ry="1.8" fill="url(#g2)"/>
<ellipse cx="562.1" cy="104.8" rx="2" ry="1" fill="#a01800" opacity="0.3"/>
<ellipse cx="562.1" cy="118" rx="2" ry="1" fill="#a01800" opacity="0.25"/>
<ellipse cx="562.1" cy="130" rx="2" ry="1" fill="#a01800" opacity="0.25"/>
<ellipse cx="562.1" cy="83" rx="2" ry="1" fill="#a01800" opacity="0.12"/>
</g>
<g clip-path="url(#cl3)">
<rect x="610" y="15.8" width="5.2" height="127.8" fill="#3a0200"/>
<ellipse cx="611.1" cy="19.5" rx="1.65" ry="4.1" fill="url(#g3)"/>
<ellipse cx="614.1" cy="19.5" rx="1.65" ry="4.1" fill="url(#g3)"/>
<ellipse cx="611.1" cy="27.8" rx="1.65" ry="4.1" fill="url(#g3)"/>
<ellipse cx="614.1" cy="27.8" rx="1.65" ry="4.1" fill="url(#g3)"/>
<ellipse cx="611.1" cy="36.1" rx="1.65" ry="4.1" fill="url(#g3)"/>
<ellipse cx="614.1" cy="36.1" rx="1.65" ry="4.1" fill="url(#g3)"/>
<ellipse cx="611.1" cy="44.4" rx="1.65" ry="4.1" fill="url(#g3)"/>
<ellipse cx="614.1" cy="44.4" rx="1.65" ry="4.1" fill="url(#g3)"/>
<ellipse cx="611.1" cy="52.7" rx="1.65" ry="4.1" fill="url(#g3)"/>
<ellipse cx="614.1" cy="52.7" rx="1.65" ry="4.1" fill="url(#g3)"/>
<ellipse cx="611.1" cy="60.9" rx="1.65" ry="4.1" fill="url(#g3)"/>
<ellipse cx="614.1" cy="60.9" rx="1.65" ry="4.1" fill="url(#g3)"/>
<ellipse cx="611.1" cy="69.2" rx="1.65" ry="4.1" fill="url(#g3)"/>
<ellipse cx="614.1" cy="69.2" rx="1.65" ry="4.1" fill="url(#g3)"/>
<ellipse cx="611.1" cy="77.5" rx="1.65" ry="4.1" fill="url(#g3)"/>
<ellipse cx="614.1" cy="77.5" rx="1.65" ry="4.1" fill="url(#g3)"/>
<ellipse cx="611.1" cy="85.8" rx="1.65" ry="4.1" fill="url(#g3)"/>
<ellipse cx="614.1" cy="85.8" rx="1.65" ry="4.1" fill="url(#g3)"/>
<ellipse cx="611.1" cy="94.1" rx="1.65" ry="4.1" fill="url(#g3)"/>
<ellipse cx="614.1" cy="94.1" rx="1.65" ry="4.1" fill="url(#g3)"/>
<ellipse cx="611.1" cy="102.4" rx="1.65" ry="4.1" fill="url(#g3)"/>
<ellipse cx="614.1" cy="102.4" rx="1.65" ry="4.1" fill="url(#g3)"/>
<ellipse cx="611.1" cy="110.7" rx="1.65" ry="4.1" fill="url(#g3)"/>
<ellipse cx="614.1" cy="110.7" rx="1.65" ry="4.1" fill="url(#g3)"/>
<ellipse cx="611.1" cy="119" rx="1.65" ry="4.1" fill="url(#g3)"/>
<ellipse cx="614.1" cy="119" rx="1.65" ry="4.1" fill="url(#g3)"/>
<ellipse cx="611.1" cy="127.3" rx="1.65" ry="4.1" fill="url(#g3)"/>
<ellipse cx="614.1" cy="127.3" rx="1.65" ry="4.1" fill="url(#g3)"/>
<ellipse cx="611.1" cy="135.6" rx="1.65" ry="4.1" fill="url(#g3)"/>
<ellipse cx="614.1" cy="135.6" rx="1.65" ry="4.1" fill="url(#g3)"/>
<ellipse cx="611.1" cy="143.8" rx="1.65" ry="4.1" fill="url(#g3)"/>
<ellipse cx="614.1" cy="143.8" rx="1.65" ry="4.1" fill="url(#g3)"/>
</g>
<g clip-path="url(#cl4)">
<rect x="659.1" y="62" width="0.8" height="82" fill="#220000"/>
<rect x="659.1" y="128" width="0.8" height="12" fill="#4a0400"/>
<ellipse cx="659.5" cy="93.8" rx="1.5" ry="1.3" fill="url(#g1)"/>
<ellipse cx="659.5" cy="143.4" rx="1.2" ry="1.3" fill="url(#g2)"/>
<rect x="662.2" y="62" width="0.8" height="82" fill="#220000"/>
<rect x="662.2" y="128" width="0.8" height="12" fill="#4a0400"/>
<ellipse cx="662.6" cy="93.8" rx="1.5" ry="1.3" fill="url(#g1)"/>
<ellipse cx="662.6" cy="143.4" rx="1.2" ry="1.3" fill="url(#g2)"/>
</g>
<text x="495.5" y="19.9" text-anchor="end" font-size="10.4" >50</text>
<text x="495.5" y="147.7" text-anchor="end" font-size="10.4" >0</text>
<text x="498.7" y="155.8" text-anchor="middle" font-size="10.4" >−2</text>
<text x="511.5" y="155.8" text-anchor="middle" font-size="10.4" >0</text>
<text x="523.8" y="155.8" text-anchor="middle" font-size="10.4" >2</text>
<text x="512.9" y="170" text-anchor="middle" font-size="10.4" >r (µm)</text>
<text transform="translate(492.9 79.5) rotate(-90)" text-anchor="middle" font-size="10.4"><tspan font-style="italic" font-weight="bold" font-family="Liberation Serif,serif" font-size="11.5">ℓ</tspan> (µm)</text>
<text x="545.5" y="19.9" text-anchor="end" font-size="10.4" >0.8</text>
<text x="544.8" y="147.7" text-anchor="end" font-size="10.4" >0</text>
<text x="547.9" y="155.8" text-anchor="middle" font-size="10.4" >−2</text>
<text x="560.6" y="155.8" text-anchor="middle" font-size="10.4" >0</text>
<text x="572.9" y="155.8" text-anchor="middle" font-size="10.4" >2</text>
<text x="562" y="170" text-anchor="middle" font-size="10.4" >r (µm)</text>
<text transform="translate(541.8 79.3) rotate(-90)" text-anchor="middle" font-size="10.4">ξ (µm<tspan font-size="6.8" dy="-3.5">−1</tspan><tspan dy="3.5">)</tspan></text>
<text x="595.4" y="19.9" text-anchor="end" font-size="10.4" >50</text>
<text x="595.4" y="147.7" text-anchor="end" font-size="10.4" >0</text>
<text x="598.3" y="155.8" text-anchor="middle" font-size="10.4" >−2</text>
<text x="611.1" y="155.8" text-anchor="middle" font-size="10.4" >0</text>
<text x="623.4" y="155.8" text-anchor="middle" font-size="10.4" >2</text>
<text x="612.5" y="170" text-anchor="middle" font-size="10.4" >r (µm)</text>
<text transform="translate(592.8 79.5) rotate(-90)" text-anchor="middle" font-size="10.4"><tspan font-style="italic" font-weight="bold" font-family="Liberation Serif,serif" font-size="11.5">ℓ</tspan> (µm)</text>
<text x="644.6" y="19.9" text-anchor="end" font-size="10.4" >0.8</text>
<text x="643.9" y="147.7" text-anchor="end" font-size="10.4" >0</text>
<text x="646.8" y="155.8" text-anchor="middle" font-size="10.4" >−2</text>
<text x="659.5" y="155.8" text-anchor="middle" font-size="10.4" >0</text>
<text x="671.8" y="155.8" text-anchor="middle" font-size="10.4" >2</text>
<text x="660.9" y="170" text-anchor="middle" font-size="10.4" >r (µm)</text>
<text transform="translate(640.9 79.3) rotate(-90)" text-anchor="middle" font-size="10.4">ξ (µm<tspan font-size="6.8" dy="-3.5">−1</tspan><tspan dy="3.5">)</tspan></text>
<text x="477.8" y="10.4" text-anchor="start" font-size="14.5" font-weight="bold" dy="0.4">c</text>
<text x="577.3" y="10.4" text-anchor="start" font-size="14.5" font-weight="bold" dy="0.4">d</text>
<line x1="105" y1="211.4" x2="105" y2="268" stroke="#dadada" stroke-width="1" />
<line x1="168.2" y1="211.4" x2="168.2" y2="268" stroke="#dadada" stroke-width="1" />
<line x1="231.5" y1="211.4" x2="231.5" y2="268" stroke="#dadada" stroke-width="1" />
<line x1="294.7" y1="211.4" x2="294.7" y2="268" stroke="#dadada" stroke-width="1" />
<line x1="358" y1="211.4" x2="358" y2="268" stroke="#dadada" stroke-width="1" />
<line x1="421.3" y1="211.4" x2="421.3" y2="268" stroke="#dadada" stroke-width="1" />
<line x1="484.5" y1="211.4" x2="484.5" y2="268" stroke="#dadada" stroke-width="1" />
<line x1="547.8" y1="211.4" x2="547.8" y2="268" stroke="#dadada" stroke-width="1" />
<line x1="611" y1="211.4" x2="611" y2="268" stroke="#dadada" stroke-width="1" />
<line x1="41.7" y1="222.4" x2="674.3" y2="222.4" stroke="#dadada" stroke-width="1" />
<line x1="41.7" y1="245.1" x2="674.3" y2="245.1" stroke="#dadada" stroke-width="1" />
<rect x="41.7" y="211.4" width="632.6" height="56.6" fill="none" stroke="#1a1a1a" stroke-width="1.35"/>
<text x="41.7" y="281" text-anchor="middle" font-size="10.4" >1050</text>
<line x1="105" y1="211.4" x2="105" y2="217.9" stroke="#1a1a1a" stroke-width="1.0" />
<line x1="105" y1="268" x2="105" y2="261.5" stroke="#1a1a1a" stroke-width="1.0" />
<text x="105" y="281" text-anchor="middle" font-size="10.4" >1052</text>
<line x1="168.2" y1="211.4" x2="168.2" y2="217.9" stroke="#1a1a1a" stroke-width="1.0" />
<line x1="168.2" y1="268" x2="168.2" y2="261.5" stroke="#1a1a1a" stroke-width="1.0" />
<text x="168.2" y="281" text-anchor="middle" font-size="10.4" >1054</text>
<line x1="231.5" y1="211.4" x2="231.5" y2="217.9" stroke="#1a1a1a" stroke-width="1.0" />
<line x1="231.5" y1="268" x2="231.5" y2="261.5" stroke="#1a1a1a" stroke-width="1.0" />
<text x="231.5" y="281" text-anchor="middle" font-size="10.4" >1056</text>
<line x1="294.7" y1="211.4" x2="294.7" y2="217.9" stroke="#1a1a1a" stroke-width="1.0" />
<line x1="294.7" y1="268" x2="294.7" y2="261.5" stroke="#1a1a1a" stroke-width="1.0" />
<text x="294.7" y="281" text-anchor="middle" font-size="10.4" >1058</text>
<line x1="358" y1="211.4" x2="358" y2="217.9" stroke="#1a1a1a" stroke-width="1.0" />
<line x1="358" y1="268" x2="358" y2="261.5" stroke="#1a1a1a" stroke-width="1.0" />
<text x="358" y="281" text-anchor="middle" font-size="10.4" >1060</text>
<line x1="421.3" y1="211.4" x2="421.3" y2="217.9" stroke="#1a1a1a" stroke-width="1.0" />
<line x1="421.3" y1="268" x2="421.3" y2="261.5" stroke="#1a1a1a" stroke-width="1.0" />
<text x="421.3" y="281" text-anchor="middle" font-size="10.4" >1062</text>
<line x1="484.5" y1="211.4" x2="484.5" y2="217.9" stroke="#1a1a1a" stroke-width="1.0" />
<line x1="484.5" y1="268" x2="484.5" y2="261.5" stroke="#1a1a1a" stroke-width="1.0" />
<text x="484.5" y="281" text-anchor="middle" font-size="10.4" >1064</text>
<line x1="547.8" y1="211.4" x2="547.8" y2="217.9" stroke="#1a1a1a" stroke-width="1.0" />
<line x1="547.8" y1="268" x2="547.8" y2="261.5" stroke="#1a1a1a" stroke-width="1.0" />
<text x="547.8" y="281" text-anchor="middle" font-size="10.4" >1066</text>
<line x1="611" y1="211.4" x2="611" y2="217.9" stroke="#1a1a1a" stroke-width="1.0" />
<line x1="611" y1="268" x2="611" y2="261.5" stroke="#1a1a1a" stroke-width="1.0" />
<text x="611" y="281" text-anchor="middle" font-size="10.4" >1068</text>
<text x="674.3" y="281" text-anchor="middle" font-size="10.4" >1070</text>
<line x1="41.7" y1="222.4" x2="48.5" y2="222.4" stroke="#1a1a1a" stroke-width="1.0" />
<line x1="674.3" y1="222.4" x2="667.5" y2="222.4" stroke="#1a1a1a" stroke-width="1.0" />
<text x="36.6" y="226" text-anchor="end" font-size="10.4" >0</text>
<line x1="41.7" y1="245.1" x2="48.5" y2="245.1" stroke="#1a1a1a" stroke-width="1.0" />
<line x1="674.3" y1="245.1" x2="667.5" y2="245.1" stroke="#1a1a1a" stroke-width="1.0" />
<text x="36.6" y="248.7" text-anchor="end" font-size="10.4" >−10</text>
<text x="36.6" y="271.3" text-anchor="end" font-size="10.4" >−20</text>
<text x="358" y="296.5" text-anchor="middle" font-size="10.4" >FH wavelength (nm)</text>
<text transform="translate(8.6 239.1) rotate(-90)" text-anchor="middle" font-size="10.1" >SH power (dBm)</text>
<text x="103.5" y="235.6" text-anchor="start" font-size="8.5" >1 FSR</text>
<line x1="81" y1="239.4" x2="87.6" y2="239.4" stroke="#111" stroke-width="1.2" />
<path d="M93.2 239.4 L86.2 237.1 L86.2 241.7 Z" fill="#111"/>
<line x1="113.3" y1="239.4" x2="106.9" y2="239.4" stroke="#111" stroke-width="1.2" />
<path d="M101.3 239.4 L108.3 237.1 L108.3 241.7 Z" fill="#111"/>
<text x="-0.3" y="199" text-anchor="start" font-size="14.5" font-weight="bold" dy="0.4">e</text>
<path d="M41.2 268 L41.7 265.1 L42.2 265.2 L42.7 265.7 L43.2 265.3 L43.7 265.5 L44.2 264.9 L44.7 265.5 L45.2 265.5 L45.7 265.7 L46.2 264.7 L46.7 265 L47.2 265.5 L47.7 265.4 L48.2 265.4 L48.7 265.2 L49.2 265.7 L49.7 264.8 L50.2 265 L50.7 265.1 L51.2 265.3 L51.7 265.3 L52.2 265.3 L52.7 265.6 L53.2 264.7 L53.7 265.7 L54.2 265.6 L54.7 265.8 L55.2 265.5 L55.7 264.9 L56.2 265.7 L56.7 265.2 L57.2 265.7 L57.7 265.4 L58.2 265.7 L58.7 265.5 L59.2 265.7 L59.7 264.9 L60.2 265.7 L60.7 265.4 L61.2 265.2 L61.7 265.7 L62.2 265.4 L62.7 265.8 L63.2 265.2 L63.7 265 L64.2 265.7 L64.7 265.5 L65.2 265.4 L65.7 265.7 L66.2 265.4 L66.7 265.8 L67.2 265 L67.7 265.8 L68.2 265.2 L68.7 264.9 L69.2 265.4 L69.7 265.4 L70.2 265.4 L70.7 265.7 L71.2 265.3 L71.7 265.8 L72.2 264.4 L72.7 265.8 L73.2 265.5 L73.7 265.5 L74.2 265.4 L74.7 265 L75.2 265.1 L75.7 265.5 L76.2 265.7 L76.7 265.7 L77.2 265.5 L77.7 265.3 L78.2 265.1 L78.7 265.4 L79.2 265.2 L79.7 265.7 L80.2 265.1 L80.7 265 L81.2 265.5 L81.7 264.8 L82.2 265.1 L82.7 265 L83.2 265 L83.7 265.7 L84.2 265.3 L84.7 265.7 L85.2 265.8 L85.7 265.1 L86.2 265.8 L86.7 265.8 L87.2 263.3 L87.7 265.6 L88.2 264 L88.7 265.4 L89.2 265.3 L89.7 265.7 L90.2 265.7 L90.7 265.5 L91.2 264.9 L91.7 265.5 L92.2 265.2 L92.7 265.1 L93.2 265.5 L93.7 265.1 L94.2 264.4 L94.7 264.6 L95.2 265.6 L95.7 265.5 L96.2 265.8 L96.7 265.8 L97.2 264.6 L97.7 265.3 L98.2 265.2 L98.7 265.5 L99.2 265 L99.7 265.6 L100.2 264.8 L100.7 265.6 L101.2 265.3 L101.7 265.3 L102.2 265.4 L102.7 264.7 L103.2 265.8 L103.7 265.6 L104.2 265.6 L104.7 265.2 L105.2 265.4 L105.7 265.5 L106.2 265.2 L106.7 265.4 L107.2 265.7 L107.7 265.6 L108.2 265.8 L108.7 265.4 L109.2 265.5 L109.7 265.4 L110.2 265.5 L110.7 265.3 L111.2 265.6 L111.7 265.7 L112.2 265.8 L112.7 265.6 L113.2 265.4 L113.7 265.5 L114.2 265.5 L114.7 265 L115.2 265.1 L115.7 265.8 L116.2 265.6 L116.7 265.8 L117.2 265 L117.7 265.8 L118.2 265.2 L118.7 265.3 L119.2 265.2 L119.7 265.8 L120.2 265.5 L120.7 265.6 L121.2 265.6 L121.7 265.6 L122.2 265.7 L122.7 265 L123.2 264.8 L123.7 264.3 L124.2 265.3 L124.7 264.6 L125.2 265.6 L125.7 265.8 L126.2 265.5 L126.7 264.6 L127.2 265.2 L127.7 265.2 L128.2 265.7 L128.7 264.4 L129.2 265.3 L129.7 265 L130.2 264.6 L130.7 265.7 L131.2 265.4 L131.7 265.5 L132.2 265.7 L132.7 265.7 L133.2 265.4 L133.7 264.8 L134.2 265.7 L134.7 265.2 L135.2 265.3 L135.7 265.7 L136.2 263.3 L136.7 265.2 L137.2 265.5 L137.7 265.8 L138.2 265.6 L138.7 265.6 L139.2 265 L139.7 265.1 L140.2 265.5 L140.7 265.2 L141.2 265.2 L141.7 265.5 L142.2 265.2 L142.7 263.9 L143.2 265.5 L143.7 265.2 L144.2 265.6 L144.7 265.4 L145.2 265.4 L145.7 265.7 L146.2 265.3 L146.7 265.7 L147.2 264.8 L147.7 264.5 L148.2 265.3 L148.7 265 L149.2 264.9 L149.7 264.1 L150.2 265.4 L150.7 264.8 L151.2 265.8 L151.7 265.6 L152.2 265.4 L152.7 264.6 L153.2 265.1 L153.7 265.5 L154.2 265.5 L154.7 265.6 L155.2 265.7 L155.7 265.5 L156.2 264.6 L156.7 265.7 L157.2 265.8 L157.7 265.4 L158.2 265.4 L158.7 263.9 L159.2 265 L159.7 265.7 L160.2 265.7 L160.7 265.7 L161.2 265.7 L161.7 265.7 L162.2 265.6 L162.7 265.7 L163.2 265.3 L163.7 265.2 L164.2 264.4 L164.7 265.3 L165.2 264.9 L165.7 265.3 L166.2 265.8 L166.7 265.5 L167.2 265.3 L167.7 265.3 L168.2 265.7 L168.7 264.2 L169.2 265.5 L169.7 263.9 L170.2 265.1 L170.7 264.9 L171.2 265.3 L171.7 265.3 L172.2 265.4 L172.7 265.6 L173.2 265.6 L173.7 265 L174.2 265 L174.7 265.6 L175.2 265 L175.7 264.2 L176.2 264.7 L176.7 265.8 L177.2 264.4 L177.7 264.8 L178.2 265 L178.7 265.6 L179.2 265.7 L179.7 265.5 L180.2 265.5 L180.7 264.8 L181.2 265.5 L181.7 265.6 L182.2 265.1 L182.7 265.4 L183.2 265 L183.7 265.2 L184.2 264.2 L184.7 265.4 L185.2 265.6 L185.7 265.5 L186.2 265.4 L186.7 265.6 L187.2 265.5 L187.7 265.5 L188.2 264.9 L188.7 264.8 L189.2 265.2 L189.7 265.5 L190.2 265.8 L190.7 265.7 L191.2 265.7 L191.7 264.8 L192.2 264.8 L192.7 265.2 L193.2 265.1 L193.7 264.6 L194.2 264.9 L194.7 265.4 L195.2 264.9 L195.7 265.2 L196.2 265.2 L196.7 265.6 L197.2 265.7 L197.7 265.5 L198.2 265.5 L198.7 265.7 L199.2 265 L199.7 264.8 L200.2 264.9 L200.7 265.7 L201.2 264.9 L201.7 265.7 L202.2 265.1 L202.7 265 L203.2 265.4 L203.7 265.4 L204.2 265.6 L204.7 265.3 L205.2 265.7 L205.7 264.5 L206.2 265.7 L206.7 265.7 L207.2 265.4 L207.7 265.6 L208.2 265.8 L208.7 265.6 L209.2 265.7 L209.7 264.7 L210.2 265.7 L210.7 265.1 L211.2 265.8 L211.7 265.3 L212.2 265.5 L212.7 265.1 L213.2 265.1 L213.7 265.5 L214.2 264.8 L214.7 265.2 L215.2 265.7 L215.7 264 L216.2 265.1 L216.7 265.5 L217.2 265.4 L217.7 264.8 L218.2 265.3 L218.7 265.4 L219.2 264.3 L219.7 265.8 L220.2 265.2 L220.7 265.6 L221.2 265.3 L221.7 265.1 L222.2 265.2 L222.7 265.5 L223.2 265.2 L223.7 265.2 L224.2 265 L224.7 265.6 L225.2 265.7 L225.7 265.7 L226.2 265 L226.7 264.7 L227.2 265.2 L227.7 265.6 L228.2 265.4 L228.7 265.7 L229.2 265.6 L229.7 265.2 L230.2 264.5 L230.7 265.6 L231.2 265.1 L231.7 265.4 L232.2 265.8 L232.7 265.5 L233.2 265.3 L233.7 265.6 L234.2 265.2 L234.7 265.7 L235.2 265.6 L235.7 265.1 L236.2 265.6 L236.7 265.7 L237.2 265.1 L237.7 265.6 L238.2 264.9 L238.7 265.2 L239.2 265.5 L239.7 265.5 L240.2 264.2 L240.7 265.1 L241.2 265.7 L241.7 264.1 L242.2 265.8 L242.7 265.5 L243.2 265.5 L243.7 265.1 L244.2 265.5 L244.7 264.9 L245.2 265.2 L245.7 265.6 L246.2 265.3 L246.7 265.6 L247.2 265.1 L247.7 265.2 L248.2 265.3 L248.7 264.1 L249.2 265.2 L249.7 265.3 L250.2 265.3 L250.7 265.5 L251.2 265.7 L251.7 265.6 L252.2 265.1 L252.7 265.7 L253.2 265.7 L253.7 265.6 L254.2 265.3 L254.7 264.6 L255.2 265.5 L255.7 265.5 L256.2 264.6 L256.7 265.5 L257.2 265.8 L257.7 264.9 L258.2 265.6 L258.7 265.6 L259.2 265.2 L259.7 265.2 L260.2 265.7 L260.7 265.5 L261.2 265.4 L261.7 264.8 L262.2 265.7 L262.7 265.2 L263.2 265.3 L263.7 264.3 L264.2 264.6 L264.7 264.5 L265.2 265.2 L265.7 265.2 L266.2 265 L266.7 265.4 L267.2 265.6 L267.7 265.5 L268.2 265.8 L268.7 264.7 L269.2 265.7 L269.7 265.5 L270.2 265.6 L270.7 265.6 L271.2 265.6 L271.7 265.5 L272.2 265.3 L272.7 265.4 L273.2 265 L273.7 265 L274.2 265.1 L274.7 265.5 L275.2 264.9 L275.7 265.1 L276.2 265.5 L276.7 265.4 L277.2 265.7 L277.7 265.2 L278.2 264.8 L278.7 265.1 L279.2 265.7 L279.7 264.6 L280.2 264.8 L280.7 265.6 L281.2 265.6 L281.7 265.8 L282.2 265.1 L282.7 265.6 L283.2 265.4 L283.7 265.3 L284.2 265.8 L284.7 265.7 L285.2 265.4 L285.7 265.2 L286.2 265.2 L286.7 264.6 L287.2 264.8 L287.7 265.6 L288.2 264.8 L288.7 265.5 L289.2 265.2 L289.7 265 L290.2 264.9 L290.7 265.1 L291.2 265.6 L291.7 265.1 L292.2 265.4 L292.7 265 L293.2 264.2 L293.7 264.8 L294.2 265.3 L294.7 265.8 L295.2 265.3 L295.7 265.7 L296.2 265 L296.7 265.5 L297.2 265.3 L297.7 265.6 L298.2 265.2 L298.7 265.5 L299.2 265.3 L299.7 265.3 L300.2 265 L300.7 265 L301.2 265.7 L301.7 265 L302.2 265.4 L302.7 265.4 L303.2 265.5 L303.7 265.3 L304.2 265.7 L304.7 264.8 L305.2 265.1 L305.7 265 L306.2 264.9 L306.7 265.5 L307.2 265.5 L307.7 264.2 L308.2 265.3 L308.7 265.4 L309.2 264.5 L309.7 265.2 L310.2 265.8 L310.7 264.9 L311.2 265.6 L311.7 264.7 L312.2 265.8 L312.7 265.8 L313.2 265.5 L313.7 265.7 L314.2 265.5 L314.7 265.1 L315.2 264.2 L315.7 264.6 L316.2 265.8 L316.7 265.8 L317.2 265.7 L317.7 265.4 L318.2 265.8 L318.7 264.9 L319.2 265.4 L319.7 265.4 L320.2 264.9 L320.7 265.8 L321.2 265.8 L321.7 265.1 L322.2 265.1 L322.7 265.1 L323.2 265.7 L323.7 265.3 L324.2 264.7 L324.7 264.8 L325.2 265.5 L325.7 265.4 L326.2 265.6 L326.7 265.1 L327.2 265.1 L327.7 265 L328.2 265.8 L328.7 265.7 L329.2 265.7 L329.7 265.6 L330.2 265.6 L330.7 265.7 L331.2 265.5 L331.7 265.6 L332.2 265.7 L332.7 265.3 L333.2 265.7 L333.7 264.1 L334.2 265.2 L334.7 265.3 L335.2 265.6 L335.7 265.6 L336.2 265.1 L336.7 265.3 L337.2 265.1 L337.7 265.7 L338.2 264.7 L338.7 265.7 L339.2 264.8 L339.7 265.7 L340.2 265.3 L340.7 264.9 L341.2 265.7 L341.7 265.4 L342.2 264.8 L342.7 265.4 L343.2 265.2 L343.7 264.3 L344.2 265.5 L344.7 264.9 L345.2 265.3 L345.7 265.5 L346.2 265.7 L346.7 265.7 L347.2 265.3 L347.7 265.7 L348.2 265.5 L348.7 265.8 L349.2 265.5 L349.7 265.2 L350.2 265.2 L350.7 263.7 L351.2 264.7 L351.7 265.5 L352.2 264.8 L352.7 265.6 L353.2 265.6 L353.7 265.7 L354.2 265 L354.7 265.6 L355.2 264.4 L355.7 265.4 L356.2 265.1 L356.7 265.6 L357.2 265.4 L357.7 265.3 L358.2 265 L358.7 265.8 L359.2 265.4 L359.7 265.6 L360.2 264.9 L360.7 265.7 L361.2 264.9 L361.7 265 L362.2 265.5 L362.7 265.7 L363.2 265.8 L363.7 265.2 L364.2 265.6 L364.7 264.9 L365.2 265.6 L365.7 264.6 L366.2 265.7 L366.7 265.6 L367.2 265.2 L367.7 265.6 L368.2 264.3 L368.7 265.3 L369.2 265.5 L369.7 265.8 L370.2 265 L370.7 265.2 L371.2 265.4 L371.7 265.5 L372.2 265.5 L372.7 265.2 L373.2 265 L373.7 265.3 L374.2 264.6 L374.7 265.8 L375.2 265.6 L375.7 265.6 L376.2 265.5 L376.7 265.7 L377.2 265.4 L377.7 265.6 L378.2 265.6 L378.7 265.8 L379.2 265.4 L379.7 265.2 L380.2 265.8 L380.7 265.6 L381.2 265.7 L381.7 265.5 L382.2 265.7 L382.7 265.8 L383.2 265.4 L383.7 265.4 L384.2 265.5 L384.7 265 L385.2 264.7 L385.7 265.2 L386.2 265.4 L386.7 265 L387.2 265.2 L387.7 265.6 L388.2 265 L388.7 265.7 L389.2 265.7 L389.7 265 L390.2 265.5 L390.7 265.3 L391.2 265.3 L391.7 265.3 L392.2 264.6 L392.7 265.2 L393.2 265.3 L393.7 265.8 L394.2 265.6 L394.7 265 L395.2 265.3 L395.7 264.9 L396.2 265.7 L396.7 264.6 L397.2 265.5 L397.7 264.8 L398.2 265.6 L398.7 265.2 L399.2 265.1 L399.7 265.6 L400.2 265.8 L400.7 265.4 L401.2 265.8 L401.7 265.6 L402.2 264.2 L402.7 265.1 L403.2 265.8 L403.7 265.5 L404.2 265.3 L404.7 265.5 L405.2 265 L405.7 265.8 L406.2 264.6 L406.7 265.1 L407.2 265.3 L407.7 265.3 L408.2 265.4 L408.7 265.6 L409.2 265.2 L409.7 265.2 L410.2 264.8 L410.7 265.1 L411.2 265.2 L411.7 265.4 L412.2 265.8 L412.7 264.9 L413.2 265.4 L413.7 265.4 L414.2 265.8 L414.7 265.7 L415.2 265 L415.7 265.2 L416.2 265.4 L416.7 265.5 L417.2 265.5 L417.7 265.5 L418.2 264.7 L418.7 262.8 L419.2 265.3 L419.7 265.7 L420.2 265 L420.7 264.6 L421.2 265.7 L421.7 265.6 L422.2 264.3 L422.7 264.5 L423.2 264.7 L423.7 265.5 L424.2 265.8 L424.7 265.5 L425.2 265.6 L425.7 265.2 L426.2 265.7 L426.7 265.5 L427.2 264.7 L427.7 264.9 L428.2 264.5 L428.7 265.1 L429.2 265.6 L429.7 265.3 L430.2 265 L430.7 265 L431.2 264.9 L431.7 265.4 L432.2 265.6 L432.7 265.7 L433.2 265.8 L433.7 263.9 L434.2 264.8 L434.7 265.6 L435.2 264.8 L435.7 265.2 L436.2 264.8 L436.7 265.5 L437.2 265.7 L437.7 265.3 L438.2 265.7 L438.7 265.6 L439.2 265.2 L439.7 265.5 L440.2 265.5 L440.7 265.2 L441.2 265.3 L441.7 265.6 L442.2 265.4 L442.7 265.6 L443.2 264.6 L443.7 265.3 L444.2 265.6 L444.7 265.7 L445.2 265.3 L445.7 265.3 L446.2 265.5 L446.7 265.1 L447.2 265.8 L447.7 265.6 L448.2 265 L448.7 265.3 L449.2 262.9 L449.7 264.2 L450.2 265.4 L450.7 265.6 L451.2 265.1 L451.7 265.5 L452.2 265.8 L452.7 264.5 L453.2 264.9 L453.7 265.3 L454.2 265.2 L454.7 265.2 L455.2 265 L455.7 265.1 L456.2 265.5 L456.7 264.9 L457.2 265.2 L457.7 265.5 L458.2 264.6 L458.7 265.7 L459.2 265.7 L459.7 265.4 L460.2 264.8 L460.7 265 L461.2 264.4 L461.7 265.2 L462.2 265.2 L462.7 265.2 L463.2 264.5 L463.7 265.2 L464.2 265.2 L464.7 265.2 L465.2 265.2 L465.7 265 L466.2 265.6 L466.7 265.2 L467.2 265.2 L467.7 264.7 L468.2 265.4 L468.7 264.7 L469.2 264.3 L469.7 265.6 L470.2 265.3 L470.7 265.1 L471.2 264.9 L471.7 264.8 L472.2 265.3 L472.7 265.3 L473.2 265 L473.7 265.4 L474.2 265.6 L474.7 264.9 L475.2 264.7 L475.7 264 L476.2 265.5 L476.7 265.5 L477.2 265.1 L477.7 265.6 L478.2 264.9 L478.7 265.3 L479.2 265.3 L479.7 265.8 L480.2 265.4 L480.7 265.4 L481.2 265.3 L481.7 265.6 L482.2 265.8 L482.7 265.6 L483.2 265.8 L483.7 265.8 L484.2 265.3 L484.7 265.7 L485.2 265.5 L485.7 265.5 L486.2 265.2 L486.7 265.7 L487.2 264.4 L487.7 265.8 L488.2 265.6 L488.7 265.5 L489.2 265.7 L489.7 265.6 L490.2 265.7 L490.7 265.2 L491.2 265.7 L491.7 265.6 L492.2 265.4 L492.7 265.4 L493.2 265.6 L493.7 265.3 L494.2 264.4 L494.7 265.8 L495.2 265.6 L495.7 265.1 L496.2 264.4 L496.7 265.8 L497.2 265.6 L497.7 265.1 L498.2 265.5 L498.7 264.7 L499.2 265.6 L499.7 265.6 L500.2 264.6 L500.7 265.6 L501.2 265.2 L501.7 265.6 L502.2 265.7 L502.7 265 L503.2 265 L503.7 265.5 L504.2 265.7 L504.7 265.6 L505.2 265.3 L505.7 264.7 L506.2 265.5 L506.7 265.3 L507.2 265.6 L507.7 265.2 L508.2 264.7 L508.7 264.5 L509.2 265.2 L509.7 265.5 L510.2 264.8 L510.7 265.7 L511.2 265.6 L511.7 265.6 L512.2 265.5 L512.7 265.2 L513.2 264.8 L513.7 265.6 L514.2 265.7 L514.7 265.8 L515.2 265.8 L515.7 265.5 L516.2 265.1 L516.7 265.4 L517.2 265 L517.7 265.3 L518.2 265.3 L518.7 265.2 L519.2 265.6 L519.7 265.3 L520.2 265 L520.7 265.5 L521.2 265.8 L521.7 265.4 L522.2 265.8 L522.7 265.3 L523.2 265.1 L523.7 265 L524.2 264.9 L524.7 264.5 L525.2 264.6 L525.7 265.1 L526.2 264.8 L526.7 265.5 L527.2 265.3 L527.7 264.6 L528.2 264.9 L528.7 265.6 L529.2 264 L529.7 265.6 L530.2 265.2 L530.7 265.5 L531.2 265.7 L531.7 265.3 L532.2 265.6 L532.7 265.6 L533.2 265.6 L533.7 265.3 L534.2 265.6 L534.7 265.3 L535.2 263.7 L535.7 265.6 L536.2 265.7 L536.7 265.7 L537.2 265.8 L537.7 265.3 L538.2 265.7 L538.7 265 L539.2 265.8 L539.7 265.8 L540.2 265.6 L540.7 265.1 L541.2 265.7 L541.7 265.3 L542.2 265.4 L542.7 264.9 L543.2 265.6 L543.7 265 L544.2 265.2 L544.7 265.7 L545.2 264.4 L545.7 265.4 L546.2 265.4 L546.7 265.7 L547.2 265.1 L547.7 265.7 L548.2 265.3 L548.7 265.3 L549.2 264.9 L549.7 265.5 L550.2 265.2 L550.7 265.7 L551.2 265.8 L551.7 265.2 L552.2 264.6 L552.7 265.2 L553.2 265.6 L553.7 265.7 L554.2 265 L554.7 265.7 L555.2 265.7 L555.7 265.5 L556.2 264.6 L556.7 265 L557.2 265.6 L557.7 264.6 L558.2 265.6 L558.7 264.6 L559.2 265.7 L559.7 264.6 L560.2 265.3 L560.7 265.1 L561.2 265.5 L561.7 265.5 L562.2 265.5 L562.7 265.5 L563.2 264.5 L563.7 265.3 L564.2 265.7 L564.7 265.2 L565.2 265.4 L565.7 265.7 L566.2 264.3 L566.7 265.2 L567.2 264.8 L567.7 264.7 L568.2 264.9 L568.7 265.2 L569.2 265.5 L569.7 265.6 L570.2 265.3 L570.7 265.3 L571.2 265.1 L571.7 265.7 L572.2 265.3 L572.7 265.5 L573.2 264.8 L573.7 265.3 L574.2 265.2 L574.7 264.8 L575.2 265.6 L575.7 265.5 L576.2 265.6 L576.7 265.5 L577.2 265.3 L577.7 264.9 L578.2 265.8 L578.7 264.7 L579.2 263.6 L579.7 265.6 L580.2 264.3 L580.7 265.5 L581.2 265 L581.7 265.5 L582.2 265.1 L582.7 265.8 L583.2 265.7 L583.7 265.3 L584.2 265.7 L584.7 265.3 L585.2 265.3 L585.7 265.3 L586.2 265.4 L586.7 265.3 L587.2 265.6 L587.7 265.5 L588.2 265.3 L588.7 265.2 L589.2 265.4 L589.7 265.3 L590.2 265.2 L590.7 265.6 L591.2 265.4 L591.7 264.8 L592.2 265.7 L592.7 265.3 L593.2 265.7 L593.7 265.7 L594.2 265.8 L594.7 265 L595.2 265 L595.7 265.8 L596.2 265.2 L596.7 265.7 L597.2 265.2 L597.7 265.1 L598.2 264.8 L598.7 265.4 L599.2 265.2 L599.7 265.1 L600.2 265.4 L600.7 264.9 L601.2 264.9 L601.7 265.6 L602.2 264.8 L602.7 265.3 L603.2 264.3 L603.7 264.5 L604.2 264.3 L604.7 263.2 L605.2 265.3 L605.7 264.6 L606.2 265.6 L606.7 265.6 L607.2 265.4 L607.7 265.4 L608.2 265.5 L608.7 265.3 L609.2 265.4 L609.7 264.6 L610.2 265.4 L610.7 265.8 L611.2 265.4 L611.7 265.4 L612.2 265.7 L612.7 265.1 L613.2 265.5 L613.7 265.6 L614.2 265.6 L614.7 265.7 L615.2 265.5 L615.7 265 L616.2 265.2 L616.7 265.7 L617.2 265.7 L617.7 265.2 L618.2 265.2 L618.7 265.7 L619.2 265.6 L619.7 265.4 L620.2 265.2 L620.7 265.4 L621.2 265.5 L621.7 265.2 L622.2 265.3 L622.7 265.1 L623.2 265.6 L623.7 265.3 L624.2 265.7 L624.7 265 L625.2 264.7 L625.7 265.7 L626.2 265.6 L626.7 265.6 L627.2 265 L627.7 265.6 L628.2 265.5 L628.7 265.6 L629.2 264.5 L629.7 264.8 L630.2 265 L630.7 265.8 L631.2 265 L631.7 265.5 L632.2 265.5 L632.7 265.1 L633.2 265 L633.7 265.3 L634.2 264.9 L634.7 265.6 L635.2 265.2 L635.7 265.3 L636.2 265.6 L636.7 264.6 L637.2 265.2 L637.7 265.4 L638.2 265.6 L638.7 265.7 L639.2 265.3 L639.7 265.3 L640.2 265.7 L640.7 265.5 L641.2 265.1 L641.7 265.2 L642.2 265.7 L642.7 265 L643.2 264.9 L643.7 265.5 L644.2 265.2 L644.7 265.3 L645.2 264.3 L645.7 265.5 L646.2 265 L646.7 265.5 L647.2 265.3 L647.7 265.7 L648.2 264.7 L648.7 265.4 L649.2 265.4 L649.7 264.7 L650.2 265.3 L650.7 265.7 L651.2 265.2 L651.7 264.7 L652.2 265.8 L652.7 265.7 L653.2 265.7 L653.7 264.8 L654.2 265.6 L654.7 265.7 L655.2 264.5 L655.7 265.4 L656.2 265.8 L656.7 265.3 L657.2 265.6 L657.7 265 L658.2 265.8 L658.7 264.9 L659.2 264 L659.7 265.5 L660.2 265.8 L660.7 265.3 L661.2 263.9 L661.7 265.6 L662.2 265 L662.7 265.7 L663.2 265.5 L663.7 265.1 L664.2 264.7 L664.7 264.8 L665.2 265.6 L665.7 265.2 L666.2 265.6 L666.7 265.8 L667.2 264.5 L667.7 265.8 L668.2 265.5 L668.7 264.9 L669.2 265.7 L669.7 265.6 L670.2 265.4 L670.7 265.8 L671.2 265.6 L671.7 265.1 L672.2 265.8 L672.7 265.4 L673.2 265.3 L673.7 265.4 L674.2 265.4 L674.3 268 Z" fill="#11a14f" stroke="#11a14f" stroke-width="0.5"/>
<path d="M94.8 266.5 L95.1 229.7 L95.5 228.9 L95.9 229.7 L96.2 266.5 Z" fill="#11a14f" stroke="#11a14f" stroke-width="0.5"/>
<path d="M99.7 266.5 L100 226.4 L100.4 225.6 L100.8 226.4 L101.2 266.5 Z" fill="#11a14f" stroke="#11a14f" stroke-width="0.5"/>
<path d="M89 266.5 L89.3 263.8 L89.6 263 L89.9 263.8 L90.2 266.5 Z" fill="#11a14f" stroke="#11a14f" stroke-width="0.5"/>
<path d="M134.8 266.5 L135.2 253.8 L135.6 253 L136 253.8 L136.3 266.5 Z" fill="#11a14f" stroke="#11a14f" stroke-width="0.5"/>
<path d="M145.2 266.5 L145.5 240.9 L145.9 240.1 L146.3 240.9 L146.7 266.5 Z" fill="#11a14f" stroke="#11a14f" stroke-width="0.5"/>
<path d="M150.1 266.5 L150.4 252.2 L150.8 251.4 L151.2 252.2 L151.6 266.5 Z" fill="#11a14f" stroke="#11a14f" stroke-width="0.5"/>
<path d="M180.5 266.5 L180.8 228 L181.3 227.2 L181.8 228 L182.1 266.5 Z" fill="#11a14f" stroke="#11a14f" stroke-width="0.5"/>
<path d="M185.4 266.5 L185.7 245.1 L186.2 244.3 L186.7 245.1 L187 266.5 Z" fill="#11a14f" stroke="#11a14f" stroke-width="0.5"/>
<path d="M195.9 266.5 L196.2 234.4 L196.7 233.6 L197.2 234.4 L197.5 266.5 Z" fill="#11a14f" stroke="#11a14f" stroke-width="0.5"/>
<path d="M200.9 266.5 L201.3 248 L201.7 247.2 L202.1 248 L202.4 266.5 Z" fill="#11a14f" stroke="#11a14f" stroke-width="0.5"/>
<path d="M209.3 266.5 L209.7 257.8 L210.1 257 L210.5 257.8 L210.8 266.5 Z" fill="#11a14f" stroke="#11a14f" stroke-width="0.5"/>
<path d="M220.8 266.5 L221.2 247.5 L221.6 246.7 L222 247.5 L222.3 266.5 Z" fill="#11a14f" stroke="#11a14f" stroke-width="0.5"/>
<path d="M230.9 266.5 L231.2 229.7 L231.7 228.9 L232.2 229.7 L232.5 266.5 Z" fill="#11a14f" stroke="#11a14f" stroke-width="0.5"/>
<path d="M236.1 266.5 L236.4 248 L236.9 247.2 L237.4 248 L237.7 266.5 Z" fill="#11a14f" stroke="#11a14f" stroke-width="0.5"/>
<path d="M251.2 266.5 L251.7 250.3 L252.3 249.5 L252.9 250.3 L253.4 266.5 Z" fill="#11a14f" stroke="#11a14f" stroke-width="0.5"/>
<path d="M256.4 266.5 L256.8 254.5 L257.2 253.7 L257.6 254.5 L257.9 266.5 Z" fill="#11a14f" stroke="#11a14f" stroke-width="0.5"/>
<path d="M267 266.5 L267.3 225.2 L267.8 224.4 L268.3 225.2 L268.6 266.5 Z" fill="#11a14f" stroke="#11a14f" stroke-width="0.5"/>
<path d="M287.1 266.5 L287.4 256.2 L287.9 255.4 L288.4 256.2 L288.7 266.5 Z" fill="#11a14f" stroke="#11a14f" stroke-width="0.5"/>
<path d="M295.4 266.5 L295.7 255 L296.1 254.2 L296.5 255 L296.9 266.5 Z" fill="#11a14f" stroke="#11a14f" stroke-width="0.5"/>
<path d="M302.5 266.5 L303 218 L303.6 217.2 L304.2 218 L304.7 266.5 Z" fill="#11a14f" stroke="#11a14f" stroke-width="0.5"/>
<path d="M322.6 266.5 L322.9 226.4 L323.4 225.6 L323.9 226.4 L324.2 266.5 Z" fill="#11a14f" stroke="#11a14f" stroke-width="0.5"/>
<path d="M331 266.5 L331.4 251 L331.9 250.2 L332.4 251 L332.8 266.5 Z" fill="#11a14f" stroke="#11a14f" stroke-width="0.5"/>
<path d="M338.1 266.5 L338.5 228.8 L339.1 228 L339.7 228.8 L340.2 266.5 Z" fill="#11a14f" stroke="#11a14f" stroke-width="0.5"/>
<path d="M342.9 266.5 L343.3 237.4 L343.8 236.6 L344.3 237.4 L344.7 266.5 Z" fill="#11a14f" stroke="#11a14f" stroke-width="0.5"/>
<path d="M362.9 266.5 L363.2 253.1 L363.7 252.3 L364.2 253.1 L364.5 266.5 Z" fill="#11a14f" stroke="#11a14f" stroke-width="0.5"/>
<path d="M368.1 266.5 L368.5 246.8 L369.1 246 L369.7 246.8 L370.2 266.5 Z" fill="#11a14f" stroke="#11a14f" stroke-width="0.5"/>
<path d="M383.6 266.5 L383.9 227.6 L384.4 226.8 L384.9 227.6 L385.2 266.5 Z" fill="#11a14f" stroke="#11a14f" stroke-width="0.5"/>
<path d="M399 266.5 L399.4 229.5 L399.9 228.7 L400.4 229.5 L400.8 266.5 Z" fill="#11a14f" stroke="#11a14f" stroke-width="0.5"/>
<path d="M403.9 266.5 L404.3 229.2 L404.8 228.4 L405.3 229.2 L405.7 266.5 Z" fill="#11a14f" stroke="#11a14f" stroke-width="0.5"/>
<path d="M411.4 266.5 L411.7 249.8 L412.1 249 L412.5 249.8 L412.9 266.5 Z" fill="#11a14f" stroke="#11a14f" stroke-width="0.5"/>
<path d="M419.6 266.5 L419.9 258.5 L420.3 257.7 L420.7 258.5 L421.1 266.5 Z" fill="#11a14f" stroke="#11a14f" stroke-width="0.5"/>
<path d="M427 266.5 L427.3 247.3 L427.8 246.5 L428.3 247.3 L428.6 266.5 Z" fill="#11a14f" stroke="#11a14f" stroke-width="0.5"/>
<path d="M434.9 266.5 L435.2 252.2 L435.7 251.4 L436.2 252.2 L436.5 266.5 Z" fill="#11a14f" stroke="#11a14f" stroke-width="0.5"/>
<path d="M471.1 266.5 L471.5 233.2 L472 232.4 L472.5 233.2 L472.9 266.5 Z" fill="#11a14f" stroke="#11a14f" stroke-width="0.5"/>
<path d="M486.7 266.5 L487.1 222.2 L487.6 221.4 L488.1 222.2 L488.5 266.5 Z" fill="#11a14f" stroke="#11a14f" stroke-width="0.5"/>
<path d="M498.8 266.5 L499.1 252.6 L499.6 251.8 L500.1 252.6 L500.4 266.5 Z" fill="#11a14f" stroke="#11a14f" stroke-width="0.5"/>
<path d="M507.1 266.5 L507.5 231.6 L508 230.8 L508.5 231.6 L508.9 266.5 Z" fill="#11a14f" stroke="#11a14f" stroke-width="0.5"/>
<path d="M527.8 266.5 L528.1 224.1 L528.6 223.3 L529.1 224.1 L529.4 266.5 Z" fill="#11a14f" stroke="#11a14f" stroke-width="0.5"/>
<path d="M543.4 266.5 L543.7 248.7 L544.2 247.9 L544.7 248.7 L545 266.5 Z" fill="#11a14f" stroke="#11a14f" stroke-width="0.5"/>
<path d="M585.6 266.5 L586 261.3 L586.4 260.5 L586.8 261.3 L587.1 266.5 Z" fill="#11a14f" stroke="#11a14f" stroke-width="0.5"/>
<path d="M610.8 266.5 L611.3 219.1 L611.8 218.3 L612.3 219.1 L612.8 266.5 Z" fill="#11a14f" stroke="#11a14f" stroke-width="0.5"/>
<path d="M631.9 266.5 L632.3 219.8 L632.8 219 L633.3 219.8 L633.7 266.5 Z" fill="#11a14f" stroke="#11a14f" stroke-width="0.5"/>
<path d="M647 266.5 L647.4 262.7 L647.8 261.9 L648.2 262.7 L648.5 266.5 Z" fill="#11a14f" stroke="#11a14f" stroke-width="0.5"/>
<path d="M652.2 266.5 L652.6 234.4 L653.1 233.6 L653.6 234.4 L654 266.5 Z" fill="#11a14f" stroke="#11a14f" stroke-width="0.5"/>
</svg>
</body></html>
